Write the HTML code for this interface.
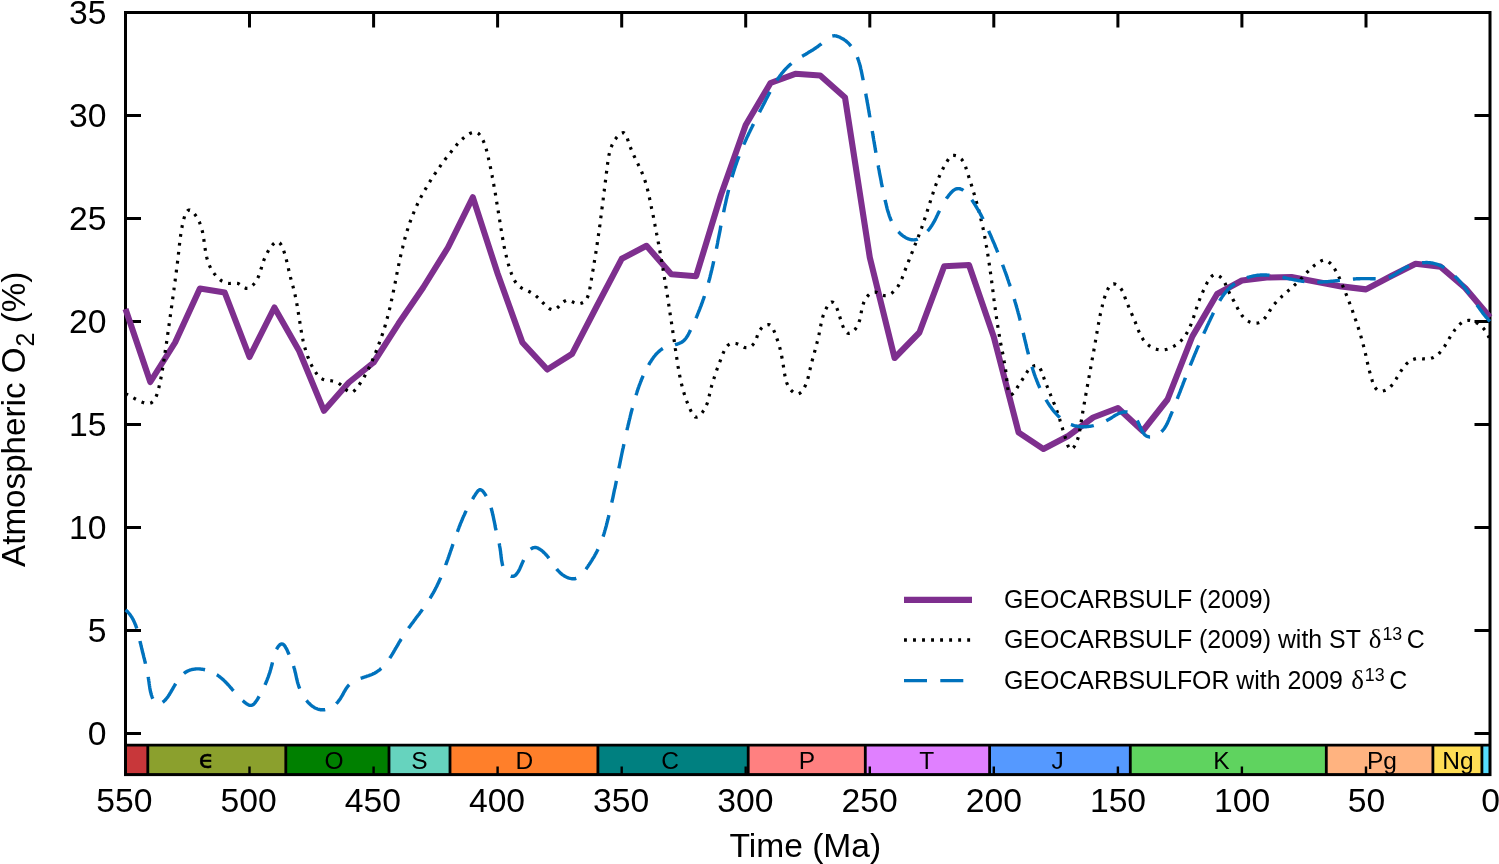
<!DOCTYPE html>
<html lang="en"><head><meta charset="utf-8"><title>Atmospheric O2 over Phanerozoic time</title>
<style>html,body{margin:0;padding:0;background:#fff}body{width:1499px;height:864px;overflow:hidden}svg{display:block}</style>
</head><body>
<svg width="1499" height="864" viewBox="0 0 1499 864" font-family="'Liberation Sans', Arial, Helvetica, sans-serif" fill="#000">
<rect x="0" y="0" width="1499" height="864" fill="#fff"/>
<path d="M1366.0,12.5 v15 M1366.0,774.6 v-9 M1241.9,12.5 v15 M1241.9,774.6 v-9 M1117.9,12.5 v15 M1117.9,774.6 v-9 M993.8,12.5 v15 M993.8,774.6 v-9 M869.8,12.5 v15 M869.8,774.6 v-9 M745.7,12.5 v15 M745.7,774.6 v-9 M621.7,12.5 v15 M621.7,774.6 v-9 M497.6,12.5 v15 M497.6,774.6 v-9 M373.6,12.5 v15 M373.6,774.6 v-9 M249.5,12.5 v15 M249.5,774.6 v-9 M125.5,733.6 h15.5 M1490.0,733.6 h-15.5 M125.5,630.6 h15.5 M1490.0,630.6 h-15.5 M125.5,527.6 h15.5 M1490.0,527.6 h-15.5 M125.5,424.6 h15.5 M1490.0,424.6 h-15.5 M125.5,321.6 h15.5 M1490.0,321.6 h-15.5 M125.5,218.6 h15.5 M1490.0,218.6 h-15.5 M125.5,115.6 h15.5 M1490.0,115.6 h-15.5" stroke="#000" stroke-width="3" fill="none"/>
<rect x="125.5" y="745.1" width="22.3" height="29.5" fill="#C8373A"/>
<rect x="147.8" y="745.1" width="137.9" height="29.5" fill="#8BA02D"/>
<rect x="285.8" y="745.1" width="103.2" height="29.5" fill="#008000"/>
<rect x="389.0" y="745.1" width="61.0" height="29.5" fill="#66D3BE"/>
<rect x="450.0" y="745.1" width="147.9" height="29.5" fill="#FF7F2A"/>
<rect x="597.9" y="745.1" width="150.3" height="29.5" fill="#008080"/>
<rect x="748.2" y="745.1" width="117.1" height="29.5" fill="#FF8080"/>
<rect x="865.3" y="745.1" width="124.3" height="29.5" fill="#E080FF"/>
<rect x="989.6" y="745.1" width="140.7" height="29.5" fill="#5599FF"/>
<rect x="1130.3" y="745.1" width="196.0" height="29.5" fill="#5FD35F"/>
<rect x="1326.3" y="745.1" width="106.6" height="29.5" fill="#FFB380"/>
<rect x="1432.9" y="745.1" width="49.0" height="29.5" fill="#FFDD55"/>
<rect x="1481.9" y="745.1" width="8.1" height="29.5" fill="#55DDFF"/>
<path d="M1366.0,774.6 v-8 M1241.9,774.6 v-8 M1117.9,774.6 v-8 M993.8,774.6 v-8 M869.8,774.6 v-8 M745.7,774.6 v-8 M621.7,774.6 v-8 M497.6,774.6 v-8 M373.6,774.6 v-8 M249.5,774.6 v-8" stroke="#000" stroke-width="2.4" fill="none"/>
<path d="M147.8,745.1 V774.6 M285.8,745.1 V774.6 M389.0,745.1 V774.6 M450.0,745.1 V774.6 M597.9,745.1 V774.6 M748.2,745.1 V774.6 M865.3,745.1 V774.6 M989.6,745.1 V774.6 M1130.3,745.1 V774.6 M1326.3,745.1 V774.6 M1432.9,745.1 V774.6 M1481.9,745.1 V774.6 M125.5,745.1 H1490.0" stroke="#000" stroke-width="2.8" fill="none"/>
<g font-size="24.5" text-anchor="middle">
<text x="206.5" y="768.2" font-family="'DejaVu Sans', 'Liberation Sans', sans-serif" font-size="25.5" stroke="#000" stroke-width="0.5">ϵ</text>
<text x="334.0" y="769.3">O</text>
<text x="419.5" y="769.3">S</text>
<text x="524.3" y="769.3">D</text>
<text x="670.0" y="769.3">C</text>
<text x="807.0" y="769.3">P</text>
<text x="926.7" y="769.3">T</text>
<text x="1057.5" y="769.3">J</text>
<text x="1221.5" y="769.3">K</text>
<text x="1382.0" y="769.3">Pg</text>
<text x="1458.0" y="769.3">Ng</text>
</g>
<rect x="125.5" y="12.5" width="1364.5" height="762.1" fill="none" stroke="#000" stroke-width="3.0"/>
<path d="M125.5,309.0 L150.3,382.0 L175.1,342.5 L199.9,288.5 L224.7,292.5 L249.5,357.0 L274.4,307.5 L299.2,351.0 L324.0,410.8 L348.8,382.5 L373.6,362.5 L398.4,323.8 L423.2,287.5 L448.0,247.5 L472.8,197.3 L497.6,273.5 L522.4,342.5 L547.3,369.5 L572.1,353.8 L596.9,306.0 L621.7,258.8 L646.5,245.8 L671.3,274.2 L696.1,276.2 L720.9,195.0 L745.7,125.0 L770.5,83.0 L795.3,73.8 L820.2,75.5 L845.0,97.5 L869.8,257.5 L894.6,358.0 L919.4,332.5 L944.2,266.2 L969.0,265.0 L993.8,337.0 L1018.6,432.5 L1043.4,449.0 L1068.2,436.0 L1093.1,417.5 L1117.9,408.0 L1142.7,431.0 L1167.5,399.5 L1192.3,336.5 L1217.1,294.0 L1241.9,280.5 L1266.7,277.5 L1291.5,277.0 L1316.3,281.7 L1341.1,286.4 L1366.0,289.4 L1390.8,276.3 L1415.6,263.8 L1440.4,266.6 L1465.2,288.0 L1490.0,317.3" stroke="#7E2F8E" stroke-width="6.1" fill="none" stroke-linejoin="round"/>
<path d="M125.5,393.7 L127.0,394.4 L128.6,395.2 L130.4,396.2 L132.3,397.3 L134.3,398.4 L136.3,399.5 L138.4,400.5 L140.5,401.5 L142.5,402.3 L144.5,403.0 L146.5,403.4 L148.3,403.5 L150.0,403.2 L151.5,402.7 L152.8,401.7 L154.0,400.4 L155.0,398.8 L156.0,396.9 L156.8,394.9 L157.5,392.8 L158.1,390.6 L158.7,388.4 L159.2,386.2 L159.7,384.0 L160.2,381.9 L160.6,379.9 L161.0,377.8 L161.4,375.8 L161.7,373.8 L162.1,371.9 L162.4,369.9 L162.7,368.0 L163.0,366.1 L163.3,364.2 L163.6,362.3 L163.9,360.3 L164.2,358.4 L164.5,356.5 L164.8,354.6 L165.1,352.6 L165.3,350.7 L165.6,348.7 L165.9,346.8 L166.2,344.9 L166.5,342.9 L166.8,340.9 L167.1,339.0 L167.3,337.0 L167.6,335.1 L167.9,333.1 L168.2,331.1 L168.5,329.2 L168.8,327.2 L169.0,325.2 L169.3,323.2 L169.6,321.2 L169.9,319.3 L170.1,317.3 L170.4,315.3 L170.7,313.3 L171.0,311.3 L171.2,309.3 L171.5,307.3 L171.8,305.3 L172.1,303.3 L172.3,301.3 L172.6,299.3 L172.9,297.3 L173.2,295.3 L173.4,293.2 L173.7,291.2 L174.0,289.2 L174.2,287.2 L174.5,285.2 L174.8,283.2 L175.1,281.2 L175.3,279.1 L175.6,277.1 L175.9,275.1 L176.1,273.1 L176.4,271.1 L176.6,269.1 L176.9,267.1 L177.2,265.1 L177.4,263.1 L177.6,261.2 L177.9,259.2 L178.1,257.3 L178.3,255.4 L178.5,253.5 L178.7,251.7 L178.9,249.8 L179.1,248.0 L179.3,246.2 L179.5,244.4 L179.7,242.6 L179.9,240.7 L180.1,238.8 L180.4,236.9 L180.7,234.9 L181.0,232.8 L181.3,230.6 L181.8,228.3 L182.2,226.0 L182.7,223.4 L183.3,220.9 L184.0,218.3 L184.7,215.9 L185.5,213.8 L186.5,212.1 L187.5,210.8 L188.6,210.1 L189.9,210.0 L191.3,210.7 L192.7,211.9 L194.1,213.4 L195.4,215.1 L196.6,216.8 L197.7,218.6 L198.6,220.5 L199.5,222.3 L200.2,224.2 L200.9,226.1 L201.5,228.0 L202.0,230.0 L202.5,231.9 L202.9,233.9 L203.2,235.8 L203.6,237.8 L203.9,239.8 L204.1,241.8 L204.4,243.8 L204.7,245.8 L205.0,247.8 L205.3,249.7 L205.6,251.7 L206.0,253.7 L206.4,255.6 L206.8,257.6 L207.3,259.5 L207.9,261.4 L208.6,263.3 L209.3,265.2 L210.2,267.1 L211.1,268.9 L212.1,270.6 L213.3,272.4 L214.5,274.0 L215.8,275.6 L217.2,277.2 L218.7,278.6 L220.3,279.9 L222.0,281.1 L223.8,282.0 L225.6,282.8 L227.5,283.3 L229.4,283.5 L231.4,283.4 L233.4,283.2 L235.4,283.1 L237.4,283.3 L239.2,284.0 L241.0,285.2 L242.7,286.5 L244.4,287.7 L246.1,288.4 L247.9,288.4 L249.6,287.7 L251.3,286.5 L252.8,285.2 L254.1,283.7 L255.3,282.2 L256.3,280.7 L257.2,279.1 L258.0,277.5 L258.8,275.8 L259.4,274.1 L260.0,272.3 L260.6,270.5 L261.2,268.6 L261.7,266.7 L262.3,264.7 L263.0,262.7 L263.7,260.6 L264.5,258.5 L265.4,256.4 L266.5,254.1 L267.7,251.9 L268.9,249.7 L270.3,247.6 L271.7,245.8 L273.1,244.2 L274.6,242.9 L276.0,242.1 L277.3,241.8 L278.6,242.1 L279.7,242.9 L280.8,244.2 L281.8,246.0 L282.7,248.0 L283.5,250.2 L284.3,252.5 L285.0,254.8 L285.6,257.0 L286.2,259.2 L286.7,261.2 L287.2,263.2 L287.6,265.2 L288.1,267.1 L288.5,268.9 L288.9,270.8 L289.4,272.6 L289.8,274.5 L290.3,276.3 L290.7,278.2 L291.2,280.0 L291.7,281.9 L292.2,283.8 L292.8,285.8 L293.3,287.7 L293.8,289.6 L294.3,291.6 L294.7,293.5 L295.2,295.5 L295.6,297.4 L296.0,299.4 L296.4,301.4 L296.8,303.4 L297.1,305.4 L297.5,307.4 L297.8,309.4 L298.1,311.3 L298.4,313.3 L298.7,315.3 L299.0,317.3 L299.4,319.3 L299.7,321.3 L300.0,323.3 L300.3,325.3 L300.6,327.3 L300.9,329.3 L301.3,331.3 L301.6,333.3 L302.0,335.2 L302.4,337.2 L302.8,339.2 L303.2,341.1 L303.7,343.0 L304.1,345.0 L304.6,346.9 L305.2,348.8 L305.7,350.7 L306.3,352.6 L307.0,354.5 L307.6,356.3 L308.4,358.2 L309.1,360.0 L309.9,361.8 L310.7,363.7 L311.6,365.4 L312.6,367.2 L313.6,369.0 L314.6,370.7 L315.7,372.4 L316.9,374.1 L318.1,375.7 L319.5,377.1 L321.0,378.3 L322.6,379.2 L324.4,379.8 L326.4,380.2 L328.4,380.4 L330.4,380.7 L332.5,381.0 L334.6,381.4 L336.6,382.1 L338.6,383.1 L340.4,384.5 L342.2,386.0 L343.8,387.6 L345.5,389.2 L347.0,390.6 L348.5,391.6 L350.0,392.3 L351.5,392.4 L352.9,391.8 L354.3,390.8 L355.7,389.4 L357.1,387.7 L358.4,386.0 L359.6,384.2 L360.8,382.4 L362.0,380.6 L363.1,378.9 L364.1,377.1 L365.1,375.3 L366.1,373.5 L367.0,371.8 L368.0,370.0 L368.8,368.2 L369.7,366.4 L370.5,364.6 L371.3,362.8 L372.1,361.0 L372.9,359.2 L373.6,357.4 L374.4,355.6 L375.1,353.8 L375.9,351.9 L376.6,350.1 L377.3,348.3 L378.0,346.4 L378.7,344.5 L379.4,342.7 L380.1,340.8 L380.8,338.9 L381.5,337.0 L382.1,335.1 L382.8,333.2 L383.4,331.3 L384.0,329.4 L384.6,327.5 L385.2,325.6 L385.7,323.7 L386.3,321.7 L386.8,319.8 L387.3,317.9 L387.8,315.9 L388.3,314.0 L388.8,312.0 L389.3,310.1 L389.8,308.1 L390.2,306.2 L390.7,304.2 L391.1,302.3 L391.5,300.3 L392.0,298.3 L392.4,296.4 L392.8,294.4 L393.2,292.4 L393.6,290.5 L394.0,288.5 L394.4,286.5 L394.8,284.5 L395.2,282.6 L395.6,280.6 L396.0,278.6 L396.4,276.7 L396.7,274.7 L397.1,272.7 L397.5,270.7 L397.9,268.8 L398.3,266.8 L398.7,264.9 L399.1,262.9 L399.6,260.9 L400.0,259.0 L400.4,257.0 L400.8,255.1 L401.3,253.1 L401.7,251.2 L402.2,249.2 L402.7,247.3 L403.1,245.3 L403.6,243.4 L404.1,241.5 L404.6,239.5 L405.2,237.6 L405.7,235.7 L406.3,233.8 L406.8,231.9 L407.4,230.0 L408.0,228.1 L408.6,226.2 L409.3,224.3 L409.9,222.4 L410.6,220.6 L411.3,218.7 L412.0,216.8 L412.7,215.0 L413.5,213.1 L414.2,211.3 L415.0,209.5 L415.8,207.6 L416.7,205.8 L417.5,204.0 L418.4,202.2 L419.3,200.4 L420.2,198.6 L421.1,196.8 L422.1,195.1 L423.0,193.3 L424.0,191.5 L425.0,189.8 L426.0,188.1 L427.0,186.3 L428.0,184.6 L429.1,182.9 L430.1,181.2 L431.2,179.5 L432.3,177.8 L433.4,176.1 L434.5,174.4 L435.6,172.8 L436.7,171.1 L437.9,169.4 L439.0,167.8 L440.2,166.2 L441.4,164.5 L442.5,162.9 L443.7,161.3 L444.9,159.7 L446.1,158.1 L447.3,156.6 L448.6,155.0 L449.8,153.4 L451.0,151.9 L452.2,150.4 L453.5,148.8 L454.7,147.3 L456.0,145.8 L457.2,144.3 L458.5,142.8 L459.9,141.4 L461.3,140.0 L462.8,138.6 L464.4,137.3 L466.1,136.0 L467.9,134.8 L469.8,133.6 L471.8,132.8 L473.8,132.2 L475.7,132.2 L477.3,132.7 L478.8,133.7 L480.1,135.2 L481.3,136.9 L482.3,138.8 L483.2,140.7 L484.0,142.6 L484.8,144.5 L485.4,146.4 L486.0,148.3 L486.5,150.2 L487.0,152.2 L487.5,154.1 L488.0,156.0 L488.4,158.0 L488.8,159.9 L489.3,161.9 L489.7,163.8 L490.1,165.8 L490.5,167.7 L490.9,169.7 L491.3,171.6 L491.7,173.6 L492.1,175.5 L492.4,177.5 L492.8,179.5 L493.2,181.4 L493.5,183.4 L493.9,185.4 L494.2,187.4 L494.6,189.3 L494.9,191.3 L495.3,193.3 L495.6,195.3 L495.9,197.2 L496.3,199.2 L496.6,201.2 L496.9,203.2 L497.2,205.1 L497.6,207.1 L497.9,209.1 L498.2,211.1 L498.5,213.0 L498.8,215.0 L499.2,217.0 L499.5,219.0 L499.8,220.9 L500.1,222.9 L500.4,224.9 L500.7,226.9 L501.0,228.8 L501.4,230.8 L501.7,232.7 L502.0,234.7 L502.3,236.7 L502.7,238.6 L503.0,240.6 L503.4,242.5 L503.7,244.5 L504.1,246.5 L504.5,248.4 L504.9,250.4 L505.4,252.3 L505.8,254.3 L506.3,256.2 L506.7,258.2 L507.3,260.1 L507.8,262.1 L508.3,264.0 L508.9,266.0 L509.5,267.9 L510.2,269.9 L510.8,271.8 L511.5,273.8 L512.3,275.7 L513.1,277.6 L513.9,279.4 L514.9,281.2 L516.0,282.8 L517.1,284.3 L518.4,285.7 L519.8,286.8 L521.4,287.9 L523.1,288.8 L524.8,289.6 L526.6,290.4 L528.5,291.3 L530.4,292.2 L532.3,293.2 L534.1,294.4 L535.9,295.8 L537.7,297.4 L539.5,299.1 L541.2,300.8 L542.8,302.6 L544.4,304.3 L546.0,305.9 L547.6,307.3 L549.2,308.5 L550.7,309.3 L552.2,309.8 L553.7,309.8 L555.3,309.3 L556.8,308.3 L558.3,307.0 L559.8,305.4 L561.4,303.8 L563.0,302.3 L564.6,301.1 L566.3,300.3 L568.0,300.2 L569.8,300.6 L571.7,301.4 L573.6,302.4 L575.5,303.3 L577.5,303.8 L579.4,303.8 L581.3,303.3 L583.1,302.4 L584.7,301.2 L586.0,299.7 L587.0,298.1 L587.9,296.3 L588.6,294.4 L589.1,292.4 L589.6,290.4 L589.9,288.3 L590.3,286.2 L590.6,284.1 L590.9,282.1 L591.3,280.0 L591.6,278.0 L591.9,276.0 L592.3,274.0 L592.6,272.0 L593.0,270.0 L593.3,268.0 L593.6,266.1 L594.0,264.1 L594.3,262.1 L594.6,260.2 L594.9,258.2 L595.2,256.3 L595.6,254.3 L595.9,252.4 L596.2,250.4 L596.5,248.4 L596.8,246.5 L597.1,244.5 L597.4,242.6 L597.6,240.6 L597.9,238.6 L598.2,236.7 L598.5,234.7 L598.8,232.8 L599.0,230.8 L599.3,228.8 L599.6,226.9 L599.9,224.9 L600.1,222.9 L600.4,221.0 L600.6,219.0 L600.9,217.0 L601.2,215.1 L601.4,213.1 L601.7,211.1 L601.9,209.1 L602.2,207.1 L602.4,205.2 L602.7,203.2 L602.9,201.2 L603.2,199.2 L603.4,197.2 L603.7,195.2 L603.9,193.2 L604.2,191.2 L604.4,189.2 L604.7,187.2 L604.9,185.2 L605.2,183.2 L605.4,181.2 L605.7,179.2 L605.9,177.2 L606.2,175.1 L606.4,173.1 L606.7,171.1 L606.9,169.0 L607.2,167.0 L607.4,165.0 L607.7,162.9 L608.0,160.9 L608.3,158.9 L608.6,156.9 L609.0,154.9 L609.5,152.9 L610.0,151.0 L610.5,149.1 L611.2,147.2 L611.9,145.4 L612.7,143.6 L613.6,141.9 L614.6,140.2 L615.8,138.6 L617.0,137.1 L618.4,135.6 L619.9,134.2 L621.4,133.2 L622.9,132.7 L624.1,132.9 L625.2,133.9 L626.1,135.4 L627.0,137.4 L627.7,139.6 L628.5,141.9 L629.2,144.1 L630.0,146.3 L630.8,148.4 L631.6,150.4 L632.5,152.4 L633.3,154.3 L634.2,156.2 L635.1,158.0 L635.9,159.8 L636.8,161.6 L637.7,163.4 L638.5,165.1 L639.3,166.9 L640.2,168.6 L641.0,170.3 L641.7,172.0 L642.5,173.8 L643.2,175.6 L643.9,177.4 L644.5,179.2 L645.1,181.0 L645.7,182.9 L646.3,184.8 L646.8,186.7 L647.3,188.6 L647.8,190.6 L648.2,192.6 L648.7,194.5 L649.1,196.5 L649.6,198.5 L650.0,200.5 L650.4,202.4 L650.8,204.4 L651.2,206.4 L651.6,208.4 L652.1,210.3 L652.5,212.3 L652.9,214.3 L653.3,216.3 L653.7,218.3 L654.1,220.2 L654.4,222.2 L654.8,224.2 L655.2,226.2 L655.6,228.1 L656.0,230.1 L656.4,232.1 L656.7,234.1 L657.1,236.0 L657.5,238.0 L657.8,240.0 L658.2,242.0 L658.6,243.9 L658.9,245.9 L659.3,247.9 L659.6,249.8 L660.0,251.8 L660.3,253.8 L660.7,255.8 L661.0,257.7 L661.4,259.7 L661.7,261.7 L662.1,263.6 L662.4,265.6 L662.7,267.6 L663.1,269.6 L663.4,271.5 L663.7,273.5 L664.1,275.5 L664.4,277.4 L664.7,279.4 L665.0,281.4 L665.4,283.4 L665.7,285.3 L666.0,287.3 L666.3,289.3 L666.6,291.2 L667.0,293.2 L667.3,295.2 L667.6,297.1 L667.9,299.1 L668.2,301.1 L668.5,303.1 L668.8,305.0 L669.1,307.0 L669.4,309.0 L669.7,310.9 L670.0,312.9 L670.3,314.9 L670.6,316.9 L670.9,318.8 L671.2,320.8 L671.5,322.8 L671.8,324.8 L672.1,326.7 L672.4,328.7 L672.7,330.7 L673.0,332.7 L673.3,334.6 L673.6,336.6 L673.9,338.6 L674.2,340.6 L674.5,342.5 L674.8,344.5 L675.1,346.5 L675.3,348.5 L675.6,350.4 L675.9,352.4 L676.2,354.4 L676.5,356.4 L676.8,358.3 L677.1,360.3 L677.4,362.3 L677.7,364.3 L678.0,366.3 L678.4,368.2 L678.7,370.2 L679.1,372.2 L679.4,374.1 L679.8,376.1 L680.2,378.1 L680.6,380.0 L681.0,382.0 L681.5,384.0 L682.0,385.9 L682.5,387.9 L683.0,389.8 L683.6,391.7 L684.2,393.7 L684.8,395.6 L685.4,397.6 L686.1,399.5 L686.8,401.4 L687.6,403.3 L688.3,405.2 L689.2,407.1 L690.0,409.0 L690.9,410.9 L691.9,412.8 L692.9,414.5 L694.0,415.9 L695.2,416.9 L696.5,417.2 L697.9,416.8 L699.5,415.7 L701.0,414.1 L702.5,412.2 L703.9,410.2 L705.1,408.2 L706.0,406.2 L706.9,404.2 L707.6,402.3 L708.2,400.3 L708.7,398.4 L709.1,396.5 L709.5,394.6 L710.0,392.7 L710.4,390.9 L710.8,389.0 L711.3,387.1 L711.8,385.3 L712.4,383.4 L712.9,381.6 L713.5,379.7 L714.1,377.9 L714.7,376.0 L715.3,374.1 L715.9,372.3 L716.6,370.4 L717.3,368.5 L718.0,366.6 L718.7,364.7 L719.4,362.7 L720.2,360.8 L721.0,358.8 L721.7,356.8 L722.5,354.8 L723.3,352.8 L724.2,350.8 L725.1,349.0 L726.2,347.2 L727.4,345.8 L728.8,344.6 L730.4,343.7 L732.2,343.3 L734.2,343.2 L736.2,343.5 L738.2,344.2 L740.1,345.2 L742.0,346.2 L743.8,347.2 L745.6,347.7 L747.5,347.7 L749.3,347.2 L751.1,346.3 L752.6,345.0 L754.0,343.5 L755.0,341.8 L755.9,339.9 L756.6,338.1 L757.2,336.1 L757.9,334.2 L758.7,332.3 L759.7,330.4 L761.0,328.7 L762.6,327.1 L764.4,325.8 L766.3,324.9 L768.1,324.6 L769.7,324.9 L771.1,325.9 L772.3,327.4 L773.3,329.3 L774.2,331.3 L775.0,333.4 L775.8,335.4 L776.5,337.4 L777.2,339.4 L777.9,341.3 L778.5,343.2 L779.0,345.1 L779.6,347.0 L780.1,348.9 L780.5,350.7 L780.9,352.6 L781.4,354.5 L781.7,356.4 L782.1,358.3 L782.5,360.2 L782.8,362.1 L783.1,364.1 L783.4,366.1 L783.7,368.1 L784.0,370.2 L784.3,372.3 L784.7,374.4 L785.1,376.5 L785.5,378.6 L786.0,380.6 L786.6,382.5 L787.4,384.4 L788.2,386.2 L789.2,387.9 L790.3,389.4 L791.6,390.8 L793.1,392.1 L794.7,393.1 L796.4,393.8 L798.2,393.9 L799.8,393.3 L801.3,392.1 L802.7,390.4 L803.9,388.4 L805.0,386.3 L805.9,384.3 L806.7,382.3 L807.4,380.3 L807.9,378.4 L808.4,376.5 L808.9,374.6 L809.3,372.8 L809.7,370.9 L810.1,369.0 L810.6,367.1 L811.0,365.2 L811.5,363.3 L812.0,361.4 L812.5,359.4 L813.1,357.5 L813.6,355.5 L814.1,353.5 L814.7,351.6 L815.2,349.6 L815.7,347.6 L816.3,345.6 L816.8,343.7 L817.3,341.7 L817.8,339.8 L818.2,337.8 L818.7,335.9 L819.1,334.0 L819.5,332.1 L819.9,330.2 L820.2,328.4 L820.6,326.5 L820.9,324.7 L821.3,322.8 L821.7,320.9 L822.2,319.0 L822.7,317.1 L823.4,315.0 L824.2,312.9 L825.1,310.7 L826.2,308.5 L827.4,306.3 L828.7,304.4 L830.0,302.9 L831.3,302.1 L832.6,302.0 L833.8,302.8 L835.0,304.2 L836.0,306.1 L836.9,308.3 L837.7,310.4 L838.4,312.5 L839.1,314.5 L839.6,316.3 L840.2,318.2 L840.7,320.1 L841.3,322.0 L842.0,324.0 L842.8,326.0 L843.7,328.2 L844.8,330.1 L846.0,331.8 L847.4,333.0 L848.8,333.5 L850.5,333.2 L852.1,332.3 L853.7,330.9 L855.2,329.2 L856.5,327.4 L857.5,325.6 L858.4,323.8 L859.1,321.9 L859.7,320.0 L860.2,318.1 L860.6,316.1 L861.0,314.1 L861.3,312.1 L861.7,310.0 L862.2,307.9 L862.7,305.9 L863.3,303.9 L864.0,301.9 L864.8,300.1 L865.8,298.3 L867.0,296.7 L868.4,295.2 L869.9,293.9 L871.7,292.9 L873.5,292.2 L875.4,292.1 L877.2,292.5 L879.1,293.4 L880.9,294.4 L882.7,295.3 L884.6,295.7 L886.5,295.6 L888.4,295.0 L890.2,294.1 L891.9,293.0 L893.4,291.8 L894.8,290.5 L896.1,289.0 L897.2,287.5 L898.3,285.9 L899.3,284.1 L900.2,282.4 L901.1,280.5 L901.9,278.7 L902.6,276.8 L903.4,274.8 L904.1,272.9 L904.8,271.0 L905.5,269.1 L906.3,267.1 L907.0,265.2 L907.7,263.3 L908.5,261.5 L909.2,259.6 L909.9,257.7 L910.7,255.8 L911.4,254.0 L912.2,252.1 L912.9,250.2 L913.7,248.4 L914.4,246.5 L915.1,244.7 L915.9,242.8 L916.6,241.0 L917.3,239.2 L918.1,237.3 L918.8,235.5 L919.5,233.6 L920.2,231.8 L920.9,229.9 L921.6,228.0 L922.2,226.2 L922.9,224.3 L923.6,222.4 L924.2,220.5 L924.8,218.6 L925.5,216.8 L926.1,214.9 L926.7,212.9 L927.3,211.0 L927.9,209.1 L928.5,207.2 L929.1,205.3 L929.7,203.4 L930.3,201.5 L930.9,199.5 L931.5,197.6 L932.1,195.7 L932.8,193.8 L933.4,191.9 L934.1,190.0 L934.7,188.1 L935.4,186.2 L936.1,184.3 L936.8,182.5 L937.6,180.6 L938.3,178.7 L939.1,176.9 L939.9,175.1 L940.7,173.2 L941.6,171.4 L942.5,169.6 L943.4,167.8 L944.4,166.0 L945.4,164.3 L946.4,162.5 L947.4,160.8 L948.5,159.1 L949.7,157.5 L951.1,156.3 L952.6,155.5 L954.4,155.4 L956.5,155.9 L958.5,156.9 L960.3,158.2 L961.9,159.7 L963.1,161.4 L964.1,163.1 L964.9,164.9 L965.6,166.8 L966.2,168.7 L966.8,170.6 L967.4,172.5 L968.0,174.4 L968.6,176.3 L969.2,178.2 L969.9,180.1 L970.5,182.0 L971.1,183.9 L971.7,185.8 L972.2,187.8 L972.8,189.7 L973.4,191.6 L974.0,193.5 L974.6,195.5 L975.1,197.4 L975.7,199.3 L976.2,201.3 L976.8,203.2 L977.3,205.2 L977.8,207.1 L978.4,209.0 L978.9,211.0 L979.4,212.9 L979.9,214.9 L980.4,216.8 L980.8,218.8 L981.3,220.7 L981.8,222.6 L982.2,224.6 L982.6,226.5 L983.1,228.5 L983.5,230.4 L983.9,232.4 L984.3,234.3 L984.7,236.3 L985.0,238.2 L985.4,240.2 L985.7,242.1 L986.1,244.1 L986.4,246.0 L986.8,248.0 L987.1,249.9 L987.4,251.9 L987.7,253.8 L988.0,255.8 L988.3,257.8 L988.6,259.7 L988.9,261.7 L989.2,263.7 L989.5,265.6 L989.8,267.6 L990.1,269.6 L990.3,271.6 L990.6,273.5 L990.9,275.5 L991.1,277.5 L991.4,279.5 L991.7,281.5 L991.9,283.5 L992.2,285.5 L992.5,287.6 L992.7,289.6 L993.0,291.6 L993.2,293.6 L993.5,295.6 L993.8,297.7 L994.0,299.7 L994.3,301.7 L994.6,303.7 L994.8,305.7 L995.1,307.8 L995.4,309.8 L995.7,311.8 L996.0,313.8 L996.2,315.8 L996.5,317.8 L996.8,319.8 L997.1,321.7 L997.4,323.7 L997.7,325.7 L998.0,327.6 L998.3,329.6 L998.6,331.5 L998.9,333.4 L999.3,335.3 L999.6,337.2 L999.9,339.1 L1000.3,341.0 L1000.6,342.8 L1000.9,344.7 L1001.3,346.5 L1001.7,348.3 L1002.0,350.1 L1002.4,351.9 L1002.8,353.7 L1003.1,355.5 L1003.5,357.4 L1003.9,359.3 L1004.2,361.2 L1004.6,363.3 L1004.9,365.4 L1005.3,367.5 L1005.6,369.8 L1005.9,372.2 L1006.2,374.8 L1006.5,377.4 L1006.8,380.2 L1007.1,382.9 L1007.4,385.5 L1007.7,388.0 L1008.1,390.2 L1008.6,392.0 L1009.2,393.5 L1009.9,394.5 L1010.8,394.9 L1011.7,394.6 L1012.8,393.7 L1014.0,392.4 L1015.3,390.6 L1016.6,388.7 L1017.8,386.6 L1019.1,384.7 L1020.2,382.8 L1021.3,381.1 L1022.4,379.5 L1023.5,377.9 L1024.5,376.2 L1025.5,374.6 L1026.6,372.8 L1027.7,371.0 L1029.0,369.3 L1030.4,367.8 L1032.0,366.6 L1033.9,365.9 L1035.8,365.6 L1037.6,365.9 L1039.0,366.8 L1040.0,368.2 L1040.9,369.9 L1041.7,371.8 L1042.4,373.8 L1043.1,375.8 L1043.8,377.8 L1044.5,379.8 L1045.3,381.7 L1046.0,383.7 L1046.8,385.6 L1047.6,387.5 L1048.3,389.4 L1049.1,391.3 L1049.9,393.1 L1050.6,395.0 L1051.4,396.9 L1052.1,398.7 L1052.9,400.5 L1053.6,402.4 L1054.4,404.2 L1055.1,406.0 L1055.8,407.9 L1056.4,409.7 L1057.1,411.5 L1057.7,413.3 L1058.4,415.2 L1059.0,417.0 L1059.6,418.8 L1060.1,420.7 L1060.7,422.6 L1061.3,424.4 L1061.9,426.4 L1062.4,428.3 L1063.0,430.2 L1063.6,432.2 L1064.2,434.2 L1064.9,436.3 L1065.5,438.4 L1066.2,440.5 L1066.9,442.6 L1067.6,444.8 L1068.4,446.7 L1069.3,448.2 L1070.2,449.2 L1071.2,449.4 L1072.3,448.9 L1073.5,447.7 L1074.6,446.0 L1075.7,444.0 L1076.7,442.0 L1077.4,439.9 L1078.1,437.9 L1078.7,435.9 L1079.1,433.9 L1079.5,432.0 L1079.8,430.0 L1080.1,428.1 L1080.5,426.1 L1080.8,424.2 L1081.1,422.2 L1081.4,420.3 L1081.7,418.3 L1082.1,416.4 L1082.4,414.4 L1082.7,412.4 L1083.0,410.5 L1083.4,408.5 L1083.7,406.6 L1084.1,404.6 L1084.4,402.6 L1084.8,400.7 L1085.1,398.7 L1085.5,396.7 L1085.8,394.8 L1086.2,392.8 L1086.5,390.8 L1086.9,388.9 L1087.2,386.9 L1087.6,384.9 L1087.9,383.0 L1088.3,381.0 L1088.7,379.0 L1089.0,377.0 L1089.4,375.1 L1089.7,373.1 L1090.1,371.1 L1090.5,369.2 L1090.8,367.2 L1091.2,365.2 L1091.5,363.2 L1091.9,361.3 L1092.2,359.3 L1092.6,357.3 L1093.0,355.3 L1093.3,353.4 L1093.7,351.4 L1094.0,349.4 L1094.4,347.4 L1094.7,345.5 L1095.0,343.5 L1095.4,341.5 L1095.7,339.5 L1096.1,337.5 L1096.4,335.6 L1096.8,333.6 L1097.1,331.6 L1097.4,329.7 L1097.8,327.7 L1098.2,325.7 L1098.5,323.8 L1098.9,321.8 L1099.3,319.9 L1099.6,317.9 L1100.0,316.0 L1100.4,314.0 L1100.9,312.1 L1101.3,310.2 L1101.7,308.2 L1102.2,306.3 L1102.6,304.4 L1103.1,302.5 L1103.6,300.6 L1104.2,298.6 L1104.8,296.7 L1105.5,294.7 L1106.3,292.8 L1107.1,290.7 L1108.1,288.7 L1109.2,286.9 L1110.4,285.3 L1111.8,284.3 L1113.5,283.9 L1115.3,284.2 L1117.1,285.1 L1118.8,286.3 L1120.3,287.8 L1121.5,289.5 L1122.5,291.2 L1123.4,293.1 L1124.1,295.0 L1124.8,297.0 L1125.5,298.9 L1126.2,300.8 L1127.0,302.7 L1127.7,304.5 L1128.5,306.4 L1129.2,308.2 L1130.0,310.0 L1130.8,311.8 L1131.6,313.6 L1132.4,315.4 L1133.2,317.2 L1134.0,319.1 L1134.7,320.9 L1135.5,322.7 L1136.2,324.6 L1137.0,326.5 L1137.7,328.4 L1138.4,330.3 L1139.2,332.2 L1140.1,334.1 L1141.0,335.9 L1142.0,337.7 L1143.1,339.4 L1144.4,341.0 L1145.7,342.5 L1147.1,343.9 L1148.6,345.2 L1150.2,346.4 L1151.9,347.4 L1153.6,348.3 L1155.4,349.0 L1157.3,349.5 L1159.2,349.8 L1161.1,349.9 L1163.0,349.9 L1165.0,349.6 L1167.0,349.2 L1168.9,348.6 L1170.8,347.8 L1172.7,346.9 L1174.5,345.9 L1176.3,344.7 L1177.9,343.5 L1179.5,342.2 L1181.0,340.8 L1182.3,339.3 L1183.6,337.8 L1184.8,336.2 L1185.9,334.6 L1186.9,332.9 L1187.9,331.1 L1188.8,329.3 L1189.7,327.5 L1190.5,325.7 L1191.2,323.8 L1191.9,321.9 L1192.6,320.0 L1193.3,318.1 L1193.9,316.2 L1194.5,314.3 L1195.2,312.4 L1195.8,310.5 L1196.4,308.6 L1197.0,306.8 L1197.6,304.9 L1198.3,303.1 L1198.9,301.3 L1199.6,299.5 L1200.3,297.7 L1201.1,295.9 L1201.9,294.0 L1202.7,292.2 L1203.5,290.3 L1204.4,288.4 L1205.3,286.4 L1206.3,284.4 L1207.3,282.4 L1208.4,280.5 L1209.6,278.7 L1210.8,277.2 L1212.1,275.9 L1213.5,275.1 L1215.0,274.7 L1216.6,274.8 L1218.3,275.6 L1220.0,276.7 L1221.5,278.2 L1222.9,279.8 L1224.1,281.6 L1225.1,283.4 L1226.0,285.3 L1226.8,287.2 L1227.6,289.1 L1228.4,290.9 L1229.2,292.6 L1230.1,294.3 L1231.0,296.0 L1232.0,297.7 L1232.9,299.4 L1233.9,301.1 L1234.8,302.8 L1235.8,304.6 L1236.7,306.5 L1237.7,308.4 L1238.7,310.3 L1239.7,312.1 L1240.9,313.9 L1242.0,315.6 L1243.3,317.2 L1244.7,318.6 L1246.2,319.9 L1247.8,321.0 L1249.5,321.9 L1251.3,322.6 L1253.2,323.0 L1255.1,323.2 L1256.9,323.1 L1258.7,322.7 L1260.4,322.0 L1262.0,321.0 L1263.4,319.7 L1264.8,318.2 L1266.1,316.5 L1267.3,314.8 L1268.5,312.9 L1269.6,311.0 L1270.8,309.2 L1271.9,307.4 L1273.1,305.7 L1274.3,304.2 L1275.6,302.7 L1276.8,301.3 L1278.2,299.9 L1279.5,298.6 L1281.0,297.3 L1282.4,295.9 L1283.9,294.6 L1285.4,293.3 L1286.9,291.9 L1288.4,290.6 L1290.0,289.3 L1291.5,287.9 L1293.0,286.6 L1294.5,285.2 L1296.0,283.8 L1297.5,282.4 L1298.9,281.0 L1300.3,279.6 L1301.7,278.2 L1303.0,276.7 L1304.3,275.3 L1305.7,273.8 L1307.0,272.4 L1308.4,271.0 L1309.8,269.6 L1311.3,268.2 L1312.8,266.8 L1314.3,265.5 L1316.0,264.2 L1317.7,263.0 L1319.5,261.8 L1321.3,260.8 L1323.2,260.2 L1325.0,260.1 L1326.7,260.6 L1328.3,261.6 L1329.9,262.9 L1331.3,264.4 L1332.6,266.0 L1333.8,267.6 L1334.9,269.3 L1336.0,271.1 L1336.9,272.8 L1337.9,274.6 L1338.7,276.5 L1339.5,278.3 L1340.3,280.1 L1341.1,282.0 L1341.9,283.9 L1342.7,285.7 L1343.4,287.6 L1344.2,289.4 L1344.9,291.2 L1345.7,293.1 L1346.4,294.9 L1347.1,296.8 L1347.8,298.6 L1348.6,300.5 L1349.3,302.3 L1350.0,304.2 L1350.7,306.1 L1351.4,307.9 L1352.1,309.8 L1352.8,311.7 L1353.4,313.6 L1354.1,315.4 L1354.8,317.3 L1355.4,319.2 L1356.1,321.2 L1356.7,323.1 L1357.4,325.0 L1358.0,326.9 L1358.6,328.8 L1359.2,330.8 L1359.8,332.7 L1360.4,334.6 L1361.0,336.6 L1361.5,338.5 L1362.1,340.4 L1362.6,342.3 L1363.1,344.3 L1363.6,346.2 L1364.1,348.1 L1364.6,350.0 L1365.0,351.9 L1365.5,353.8 L1365.9,355.7 L1366.3,357.6 L1366.7,359.6 L1367.2,361.5 L1367.6,363.4 L1368.0,365.3 L1368.5,367.3 L1369.0,369.2 L1369.5,371.2 L1370.0,373.2 L1370.5,375.2 L1371.1,377.2 L1371.8,379.2 L1372.4,381.3 L1373.1,383.3 L1373.9,385.3 L1374.9,387.2 L1376.0,388.7 L1377.3,389.9 L1379.0,390.7 L1380.8,391.1 L1382.8,391.0 L1384.8,390.5 L1386.7,389.7 L1388.4,388.6 L1389.9,387.4 L1391.3,385.9 L1392.6,384.3 L1393.8,382.7 L1394.9,380.9 L1396.0,379.2 L1397.1,377.4 L1398.2,375.7 L1399.3,373.9 L1400.3,372.1 L1401.4,370.4 L1402.5,368.8 L1403.7,367.2 L1404.9,365.7 L1406.2,364.2 L1407.6,362.9 L1409.1,361.7 L1410.7,360.6 L1412.3,359.7 L1414.2,359.1 L1416.1,358.6 L1418.3,358.5 L1420.5,358.6 L1422.7,358.8 L1425.0,358.9 L1427.1,358.9 L1429.1,358.8 L1430.9,358.4 L1432.7,357.8 L1434.3,357.0 L1435.8,356.1 L1437.3,355.1 L1438.7,353.9 L1439.9,352.5 L1441.2,351.1 L1442.4,349.6 L1443.5,347.9 L1444.7,346.2 L1445.8,344.4 L1446.9,342.6 L1448.0,340.7 L1449.1,338.8 L1450.2,336.9 L1451.4,335.0 L1452.6,333.1 L1453.8,331.3 L1455.0,329.6 L1456.3,327.9 L1457.6,326.4 L1459.0,325.0 L1460.4,323.7 L1461.8,322.6 L1463.3,321.7 L1464.9,321.0 L1466.5,320.6 L1468.2,320.4 L1469.9,320.4 L1471.7,320.8 L1473.5,321.4 L1475.4,322.2 L1477.2,323.2 L1479.0,324.5 L1480.8,325.8 L1482.4,327.3 L1483.9,328.9 L1485.3,330.6 L1486.5,332.4 L1487.6,334.2 L1488.4,336.0 L1489.0,337.8 L1489.3,339.5" stroke="#000" stroke-width="3.2" stroke-dasharray="2.8 6.2" fill="none" stroke-linejoin="round"/>
<path d="M125.6,609.9 L126.4,610.6 L127.1,611.3 L127.8,612.0 L128.5,612.8 L129.1,613.5 L129.7,614.3 L130.3,615.1 L130.9,615.9 L131.4,616.7 L132.0,617.5 L132.4,618.4 L132.9,619.2 L133.4,620.1 L133.8,621.0 L134.2,621.9 L134.6,622.8 L135.0,623.7 L135.4,624.6 L135.7,625.5 L136.1,626.5 L136.4,627.4 L136.7,628.3 L137.0,629.3 L137.3,630.3 L137.6,631.2 L137.9,632.2 L138.1,633.2 L138.4,634.2 L138.6,635.1 L138.9,636.1 L139.1,637.1 L139.3,638.1 L139.5,639.1 L139.8,640.1 L140.0,641.1 L140.2,642.1 L140.4,643.1 L140.7,644.1 L140.9,645.0 L141.1,646.0 L141.4,647.0 L141.6,648.0 L141.8,649.0 L142.1,649.9 L142.3,650.9 L142.5,651.9 L142.8,652.8 L143.0,653.8 L143.3,654.8 L143.5,655.7 L143.7,656.7 L144.0,657.7 L144.2,658.6 L144.5,659.6 L144.7,660.6 L144.9,661.5 L145.2,662.5 L145.4,663.4 L145.6,664.4 L145.9,665.4 L146.1,666.3 L146.3,667.3 L146.5,668.3 L146.7,669.2 L146.9,670.2 L147.1,671.2 L147.3,672.1 L147.5,673.1 L147.7,674.1 L147.9,675.1 L148.1,676.1 L148.2,677.0 L148.4,678.0 L148.5,679.0 L148.7,680.0 L148.8,681.0 L149.0,682.0 L149.1,683.0 L149.2,684.0 L149.4,685.0 L149.5,686.0 L149.7,687.0 L149.8,688.0 L150.0,689.1 L150.2,690.1 L150.4,691.1 L150.6,692.1 L150.9,693.1 L151.1,694.1 L151.4,695.1 L151.8,696.1 L152.1,697.1 L152.5,698.1 L153.0,699.1 L153.4,700.1 L153.9,701.0 L154.5,701.8 L155.1,702.6 L155.7,703.2 L156.4,703.7 L157.1,704.1 L157.8,704.2 L158.6,704.2 L159.4,704.1 L160.3,703.8 L161.1,703.3 L162.0,702.8 L162.8,702.2 L163.6,701.6 L164.3,700.9 L165.0,700.2 L165.7,699.5 L166.3,698.7 L166.9,698.0 L167.5,697.2 L168.1,696.4 L168.6,695.6 L169.2,694.8 L169.7,693.9 L170.2,693.0 L170.8,692.1 L171.3,691.2 L171.8,690.3 L172.4,689.4 L172.9,688.4 L173.4,687.5 L174.0,686.6 L174.5,685.6 L175.1,684.7 L175.6,683.7 L176.2,682.8 L176.8,681.9 L177.4,681.0 L178.0,680.1 L178.6,679.3 L179.2,678.4 L179.8,677.6 L180.5,676.8 L181.2,676.1 L181.9,675.3 L182.6,674.6 L183.3,674.0 L184.0,673.4 L184.8,672.8 L185.6,672.3 L186.4,671.8 L187.2,671.3 L188.1,670.9 L188.9,670.5 L189.8,670.2 L190.7,669.9 L191.6,669.7 L192.5,669.4 L193.5,669.3 L194.4,669.1 L195.3,669.0 L196.3,668.9 L197.2,668.9 L198.2,668.9 L199.2,668.9 L200.2,669.0 L201.1,669.1 L202.1,669.2 L203.1,669.4 L204.0,669.5 L205.0,669.8 L206.0,670.0 L207.0,670.3 L207.9,670.6 L208.9,670.9 L209.8,671.2 L210.7,671.6 L211.7,672.0 L212.6,672.4 L213.5,672.9 L214.4,673.3 L215.3,673.8 L216.1,674.3 L217.0,674.8 L217.8,675.4 L218.6,676.0 L219.4,676.6 L220.2,677.2 L220.9,677.8 L221.7,678.4 L222.4,679.1 L223.2,679.7 L223.9,680.4 L224.6,681.1 L225.3,681.8 L226.0,682.5 L226.7,683.2 L227.4,684.0 L228.1,684.7 L228.8,685.5 L229.4,686.2 L230.1,687.0 L230.8,687.8 L231.5,688.5 L232.1,689.3 L232.8,690.1 L233.5,690.9 L234.2,691.6 L234.9,692.4 L235.5,693.2 L236.2,694.0 L236.9,694.8 L237.7,695.5 L238.4,696.3 L239.1,697.1 L239.8,697.8 L240.6,698.6 L241.4,699.3 L242.1,700.1 L242.9,700.8 L243.7,701.5 L244.5,702.2 L245.4,702.9 L246.2,703.5 L247.0,704.1 L247.9,704.6 L248.7,705.0 L249.5,705.3 L250.3,705.4 L251.1,705.4 L251.8,705.3 L252.5,705.0 L253.2,704.6 L253.9,704.0 L254.5,703.4 L255.1,702.7 L255.7,701.8 L256.3,701.0 L256.9,700.1 L257.5,699.2 L258.0,698.3 L258.5,697.4 L259.1,696.5 L259.6,695.6 L260.1,694.6 L260.6,693.7 L261.1,692.8 L261.6,691.9 L262.1,691.0 L262.5,690.1 L263.0,689.2 L263.4,688.3 L263.9,687.4 L264.3,686.5 L264.7,685.6 L265.1,684.7 L265.5,683.8 L265.9,682.9 L266.3,682.0 L266.6,681.1 L267.0,680.2 L267.4,679.2 L267.7,678.3 L268.1,677.4 L268.4,676.5 L268.7,675.6 L269.0,674.7 L269.4,673.7 L269.7,672.8 L270.0,671.9 L270.2,670.9 L270.5,670.0 L270.8,669.0 L271.1,668.0 L271.3,667.1 L271.6,666.1 L271.9,665.1 L272.1,664.1 L272.3,663.1 L272.6,662.1 L272.8,661.1 L273.0,660.1 L273.3,659.0 L273.5,658.0 L273.8,657.0 L274.0,656.0 L274.3,654.9 L274.6,653.9 L275.0,652.9 L275.3,651.9 L275.7,651.0 L276.2,650.0 L276.7,649.1 L277.2,648.2 L277.7,647.3 L278.4,646.4 L279.0,645.7 L279.6,645.0 L280.3,644.5 L281.0,644.1 L281.6,644.0 L282.3,644.0 L282.9,644.2 L283.5,644.6 L284.1,645.1 L284.7,645.8 L285.2,646.7 L285.7,647.6 L286.3,648.5 L286.8,649.6 L287.3,650.6 L287.8,651.7 L288.2,652.8 L288.7,653.8 L289.2,654.9 L289.6,655.9 L290.0,656.9 L290.4,657.9 L290.9,658.8 L291.2,659.8 L291.6,660.7 L292.0,661.7 L292.4,662.6 L292.7,663.5 L293.0,664.5 L293.3,665.4 L293.6,666.3 L293.9,667.2 L294.2,668.2 L294.5,669.1 L294.7,670.0 L294.9,670.9 L295.1,671.9 L295.4,672.8 L295.6,673.7 L295.8,674.6 L296.0,675.6 L296.2,676.5 L296.4,677.5 L296.6,678.4 L296.8,679.3 L297.1,680.3 L297.3,681.2 L297.5,682.2 L297.8,683.1 L298.1,684.1 L298.4,685.0 L298.7,686.0 L299.0,687.0 L299.4,687.9 L299.8,688.9 L300.2,689.9 L300.6,690.8 L301.1,691.8 L301.6,692.7 L302.1,693.7 L302.6,694.6 L303.1,695.6 L303.7,696.5 L304.3,697.4 L304.9,698.3 L305.5,699.1 L306.1,700.0 L306.8,700.8 L307.4,701.6 L308.1,702.4 L308.8,703.1 L309.6,703.8 L310.3,704.5 L311.1,705.2 L311.8,705.8 L312.6,706.4 L313.4,706.9 L314.2,707.4 L315.1,707.9 L315.9,708.3 L316.8,708.7 L317.6,709.0 L318.5,709.3 L319.4,709.5 L320.3,709.7 L321.2,709.8 L322.1,709.8 L323.0,709.8 L324.0,709.8 L324.9,709.7 L325.9,709.5 L326.8,709.2 L327.8,708.9 L328.7,708.6 L329.7,708.2 L330.6,707.7 L331.5,707.2 L332.4,706.7 L333.3,706.1 L334.2,705.4 L335.0,704.8 L335.8,704.1 L336.6,703.3 L337.3,702.6 L338.0,701.8 L338.6,700.9 L339.3,700.1 L339.9,699.2 L340.5,698.4 L341.0,697.5 L341.5,696.6 L342.1,695.7 L342.6,694.8 L343.1,693.9 L343.6,692.9 L344.1,692.0 L344.6,691.2 L345.1,690.3 L345.6,689.4 L346.2,688.6 L346.7,687.8 L347.3,687.0 L347.9,686.2 L348.5,685.5 L349.2,684.8 L349.9,684.1 L350.6,683.5 L351.3,682.9 L352.1,682.4 L352.9,681.8 L353.7,681.3 L354.6,680.9 L355.5,680.4 L356.4,680.0 L357.3,679.6 L358.2,679.3 L359.2,678.9 L360.1,678.5 L361.1,678.2 L362.1,677.9 L363.1,677.5 L364.1,677.2 L365.0,676.9 L366.0,676.6 L367.0,676.2 L368.0,675.9 L368.9,675.6 L369.9,675.2 L370.8,674.9 L371.8,674.5 L372.7,674.1 L373.6,673.6 L374.5,673.2 L375.3,672.7 L376.1,672.2 L377.0,671.7 L377.7,671.2 L378.5,670.6 L379.3,670.1 L380.0,669.5 L380.7,668.8 L381.5,668.2 L382.1,667.6 L382.8,666.9 L383.5,666.2 L384.1,665.5 L384.8,664.8 L385.4,664.1 L386.0,663.3 L386.6,662.6 L387.2,661.8 L387.8,661.0 L388.4,660.2 L388.9,659.4 L389.5,658.6 L390.0,657.8 L390.6,656.9 L391.1,656.1 L391.6,655.3 L392.2,654.4 L392.7,653.5 L393.2,652.7 L393.7,651.8 L394.2,650.9 L394.7,650.1 L395.2,649.2 L395.7,648.3 L396.3,647.4 L396.8,646.5 L397.3,645.7 L397.8,644.8 L398.3,643.9 L398.8,643.0 L399.3,642.1 L399.9,641.3 L400.4,640.4 L400.9,639.5 L401.5,638.7 L402.0,637.8 L402.6,637.0 L403.1,636.1 L403.7,635.3 L404.2,634.4 L404.8,633.6 L405.4,632.8 L405.9,631.9 L406.5,631.1 L407.1,630.3 L407.7,629.5 L408.3,628.6 L408.8,627.8 L409.4,627.0 L410.0,626.2 L410.6,625.4 L411.2,624.6 L411.8,623.8 L412.4,623.0 L413.0,622.2 L413.6,621.4 L414.2,620.5 L414.8,619.7 L415.4,618.9 L416.0,618.1 L416.6,617.3 L417.2,616.5 L417.8,615.7 L418.4,615.0 L419.0,614.2 L419.6,613.4 L420.2,612.5 L420.8,611.7 L421.4,610.9 L422.0,610.1 L422.5,609.3 L423.1,608.5 L423.7,607.7 L424.3,606.9 L424.8,606.1 L425.4,605.3 L426.0,604.5 L426.5,603.7 L427.1,602.8 L427.6,602.0 L428.2,601.2 L428.7,600.4 L429.2,599.5 L429.8,598.7 L430.3,597.9 L430.8,597.0 L431.3,596.2 L431.8,595.3 L432.3,594.5 L432.8,593.6 L433.3,592.8 L433.8,591.9 L434.3,591.1 L434.7,590.2 L435.2,589.3 L435.6,588.4 L436.1,587.5 L436.5,586.7 L437.0,585.8 L437.4,584.9 L437.8,584.0 L438.3,583.1 L438.7,582.2 L439.1,581.3 L439.5,580.4 L439.9,579.5 L440.3,578.6 L440.7,577.7 L441.1,576.7 L441.5,575.8 L441.8,574.9 L442.2,574.0 L442.6,573.1 L443.0,572.1 L443.3,571.2 L443.7,570.3 L444.1,569.3 L444.4,568.4 L444.8,567.5 L445.1,566.5 L445.5,565.6 L445.8,564.6 L446.2,563.7 L446.5,562.7 L446.9,561.8 L447.2,560.9 L447.6,559.9 L447.9,559.0 L448.2,558.0 L448.6,557.1 L448.9,556.1 L449.2,555.2 L449.6,554.2 L449.9,553.2 L450.2,552.3 L450.5,551.3 L450.9,550.4 L451.2,549.4 L451.5,548.5 L451.9,547.5 L452.2,546.6 L452.5,545.6 L452.8,544.7 L453.2,543.7 L453.5,542.7 L453.8,541.8 L454.2,540.8 L454.5,539.9 L454.8,538.9 L455.2,538.0 L455.5,537.0 L455.8,536.1 L456.2,535.1 L456.5,534.2 L456.9,533.2 L457.2,532.3 L457.6,531.3 L457.9,530.4 L458.3,529.5 L458.6,528.5 L459.0,527.6 L459.3,526.6 L459.7,525.7 L460.1,524.8 L460.4,523.8 L460.8,522.9 L461.2,522.0 L461.6,521.0 L462.0,520.1 L462.4,519.2 L462.7,518.3 L463.1,517.4 L463.5,516.4 L464.0,515.5 L464.4,514.6 L464.8,513.7 L465.2,512.8 L465.6,511.9 L466.1,511.0 L466.5,510.1 L466.9,509.2 L467.4,508.3 L467.8,507.4 L468.3,506.6 L468.8,505.7 L469.2,504.8 L469.7,503.9 L470.2,503.1 L470.7,502.2 L471.2,501.3 L471.7,500.4 L472.2,499.6 L472.8,498.7 L473.3,497.8 L473.8,496.9 L474.4,496.0 L475.0,495.1 L475.6,494.1 L476.2,493.2 L476.8,492.4 L477.4,491.6 L478.0,490.9 L478.7,490.3 L479.3,489.9 L479.9,489.7 L480.6,489.7 L481.2,490.0 L481.9,490.4 L482.5,490.9 L483.2,491.6 L483.8,492.4 L484.4,493.2 L485.0,494.1 L485.5,495.0 L486.1,495.9 L486.6,496.8 L487.1,497.7 L487.5,498.7 L488.0,499.6 L488.4,500.6 L488.8,501.5 L489.2,502.5 L489.6,503.4 L489.9,504.4 L490.3,505.4 L490.6,506.4 L490.9,507.3 L491.2,508.3 L491.5,509.3 L491.7,510.3 L492.0,511.3 L492.2,512.3 L492.5,513.3 L492.7,514.3 L492.9,515.3 L493.2,516.3 L493.4,517.3 L493.6,518.3 L493.8,519.3 L494.0,520.3 L494.2,521.2 L494.4,522.2 L494.6,523.2 L494.8,524.2 L495.0,525.2 L495.1,526.1 L495.3,527.1 L495.5,528.1 L495.7,529.0 L496.0,530.0 L496.2,530.9 L496.4,531.9 L496.6,532.8 L496.8,533.7 L497.1,534.7 L497.3,535.6 L497.5,536.5 L497.7,537.4 L498.0,538.4 L498.2,539.3 L498.4,540.2 L498.6,541.2 L498.8,542.1 L499.1,543.1 L499.3,544.0 L499.5,545.0 L499.6,546.0 L499.8,547.0 L500.0,548.0 L500.2,549.0 L500.3,550.1 L500.5,551.1 L500.6,552.2 L500.7,553.2 L500.8,554.3 L501.0,555.4 L501.1,556.5 L501.2,557.6 L501.4,558.7 L501.5,559.8 L501.7,560.8 L501.9,561.9 L502.1,562.9 L502.3,564.0 L502.5,565.0 L502.8,566.0 L503.1,566.9 L503.4,567.9 L503.8,568.8 L504.2,569.7 L504.6,570.5 L505.1,571.3 L505.6,572.1 L506.2,572.8 L506.8,573.5 L507.5,574.1 L508.2,574.7 L509.0,575.2 L509.8,575.7 L510.6,576.0 L511.4,576.3 L512.1,576.4 L512.8,576.3 L513.5,576.2 L514.2,576.0 L514.9,575.6 L515.5,575.1 L516.1,574.6 L516.6,573.9 L517.2,573.2 L517.7,572.4 L518.3,571.6 L518.8,570.7 L519.3,569.7 L519.8,568.7 L520.3,567.6 L520.8,566.6 L521.2,565.5 L521.7,564.3 L522.2,563.2 L522.7,562.1 L523.2,561.0 L523.7,559.9 L524.2,558.8 L524.7,557.7 L525.2,556.7 L525.7,555.6 L526.3,554.7 L526.8,553.7 L527.4,552.9 L528.0,552.0 L528.6,551.3 L529.2,550.5 L529.8,549.9 L530.5,549.3 L531.2,548.8 L531.8,548.4 L532.5,548.0 L533.3,547.7 L534.0,547.6 L534.8,547.5 L535.6,547.5 L536.4,547.7 L537.2,547.9 L538.1,548.2 L538.9,548.7 L539.8,549.2 L540.7,549.8 L541.5,550.4 L542.4,551.1 L543.2,551.9 L544.0,552.6 L544.8,553.4 L545.5,554.2 L546.3,554.9 L546.9,555.7 L547.6,556.5 L548.3,557.4 L548.9,558.2 L549.5,559.0 L550.1,559.8 L550.7,560.7 L551.3,561.5 L551.8,562.3 L552.4,563.1 L553.0,564.0 L553.5,564.8 L554.1,565.6 L554.7,566.4 L555.2,567.2 L555.8,567.9 L556.4,568.7 L557.0,569.5 L557.7,570.2 L558.3,570.9 L559.0,571.6 L559.7,572.3 L560.4,573.0 L561.1,573.6 L561.9,574.3 L562.7,574.9 L563.5,575.4 L564.4,576.0 L565.3,576.5 L566.3,577.0 L567.2,577.4 L568.2,577.8 L569.2,578.1 L570.3,578.4 L571.3,578.6 L572.3,578.8 L573.3,578.8 L574.3,578.8 L575.2,578.7 L576.1,578.4 L577.0,578.1 L577.8,577.7 L578.7,577.2 L579.5,576.7 L580.2,576.1 L581.0,575.4 L581.7,574.6 L582.4,573.9 L583.1,573.1 L583.7,572.2 L584.4,571.4 L585.0,570.5 L585.6,569.6 L586.3,568.7 L586.9,567.8 L587.5,567.0 L588.1,566.1 L588.6,565.2 L589.2,564.4 L589.8,563.5 L590.4,562.6 L590.9,561.8 L591.5,560.9 L592.0,560.1 L592.5,559.2 L593.0,558.4 L593.6,557.5 L594.1,556.7 L594.6,555.8 L595.0,554.9 L595.5,554.1 L596.0,553.2 L596.4,552.4 L596.9,551.5 L597.3,550.6 L597.8,549.7 L598.2,548.8 L598.6,548.0 L599.0,547.1 L599.4,546.2 L599.8,545.3 L600.2,544.3 L600.5,543.4 L600.9,542.5 L601.3,541.6 L601.6,540.7 L602.0,539.7 L602.3,538.8 L602.6,537.9 L602.9,536.9 L603.3,536.0 L603.6,535.0 L603.9,534.1 L604.2,533.1 L604.5,532.2 L604.7,531.2 L605.0,530.3 L605.3,529.3 L605.6,528.3 L605.8,527.4 L606.1,526.4 L606.4,525.4 L606.6,524.5 L606.9,523.5 L607.1,522.5 L607.4,521.5 L607.6,520.6 L607.9,519.6 L608.1,518.6 L608.3,517.6 L608.6,516.7 L608.8,515.7 L609.0,514.7 L609.3,513.7 L609.5,512.7 L609.7,511.8 L609.9,510.8 L610.2,509.8 L610.4,508.8 L610.6,507.8 L610.8,506.9 L611.1,505.9 L611.3,504.9 L611.5,503.9 L611.7,503.0 L611.9,502.0 L612.1,501.0 L612.4,500.0 L612.6,499.0 L612.8,498.1 L613.0,497.1 L613.2,496.1 L613.4,495.1 L613.6,494.1 L613.8,493.2 L614.0,492.2 L614.2,491.2 L614.4,490.2 L614.6,489.2 L614.9,488.3 L615.1,487.3 L615.3,486.3 L615.5,485.3 L615.7,484.4 L615.9,483.4 L616.1,482.4 L616.3,481.4 L616.5,480.4 L616.7,479.5 L616.9,478.5 L617.1,477.5 L617.3,476.5 L617.5,475.5 L617.7,474.6 L617.9,473.6 L618.1,472.6 L618.3,471.6 L618.5,470.6 L618.6,469.7 L618.8,468.7 L619.0,467.7 L619.2,466.7 L619.4,465.8 L619.6,464.8 L619.8,463.8 L620.0,462.8 L620.2,461.8 L620.4,460.9 L620.6,459.9 L620.8,458.9 L621.0,457.9 L621.2,457.0 L621.4,456.0 L621.6,455.0 L621.8,454.0 L622.0,453.0 L622.2,452.1 L622.4,451.1 L622.6,450.1 L622.8,449.1 L623.1,448.2 L623.3,447.2 L623.5,446.2 L623.7,445.2 L623.9,444.3 L624.1,443.3 L624.3,442.3 L624.5,441.3 L624.7,440.4 L624.9,439.4 L625.1,438.4 L625.4,437.4 L625.6,436.5 L625.8,435.5 L626.0,434.5 L626.2,433.5 L626.4,432.6 L626.7,431.6 L626.9,430.6 L627.1,429.6 L627.3,428.7 L627.5,427.7 L627.8,426.7 L628.0,425.7 L628.2,424.8 L628.5,423.8 L628.7,422.8 L628.9,421.8 L629.1,420.9 L629.4,419.9 L629.6,418.9 L629.9,417.9 L630.1,417.0 L630.3,416.0 L630.6,415.0 L630.8,414.1 L631.1,413.1 L631.3,412.1 L631.6,411.1 L631.8,410.2 L632.1,409.2 L632.3,408.2 L632.6,407.3 L632.9,406.3 L633.1,405.3 L633.4,404.3 L633.6,403.4 L633.9,402.4 L634.2,401.4 L634.5,400.5 L634.7,399.5 L635.0,398.5 L635.3,397.6 L635.6,396.6 L635.9,395.7 L636.2,394.7 L636.5,393.7 L636.8,392.8 L637.1,391.8 L637.4,390.9 L637.7,389.9 L638.0,389.0 L638.4,388.0 L638.7,387.1 L639.0,386.1 L639.4,385.2 L639.7,384.3 L640.1,383.3 L640.4,382.4 L640.8,381.5 L641.2,380.5 L641.5,379.6 L641.9,378.7 L642.3,377.8 L642.7,376.8 L643.1,375.9 L643.5,375.0 L643.9,374.1 L644.4,373.2 L644.8,372.3 L645.2,371.4 L645.7,370.5 L646.1,369.6 L646.6,368.7 L647.1,367.8 L647.5,367.0 L648.0,366.1 L648.5,365.2 L649.0,364.3 L649.5,363.5 L650.0,362.6 L650.6,361.8 L651.1,360.9 L651.7,360.1 L652.2,359.2 L652.8,358.4 L653.4,357.6 L654.0,356.8 L654.6,356.0 L655.2,355.3 L655.8,354.5 L656.5,353.8 L657.2,353.1 L657.9,352.4 L658.6,351.7 L659.3,351.1 L660.0,350.5 L660.8,349.9 L661.6,349.3 L662.4,348.8 L663.2,348.3 L664.1,347.9 L665.0,347.5 L665.9,347.1 L666.8,346.8 L667.7,346.5 L668.7,346.2 L669.7,345.9 L670.7,345.7 L671.7,345.4 L672.7,345.2 L673.7,345.0 L674.7,344.8 L675.6,344.5 L676.6,344.3 L677.6,344.0 L678.5,343.7 L679.4,343.3 L680.3,342.9 L681.2,342.5 L682.0,342.0 L682.8,341.5 L683.5,340.9 L684.2,340.2 L684.9,339.5 L685.5,338.8 L686.1,338.0 L686.7,337.1 L687.3,336.3 L687.8,335.4 L688.3,334.5 L688.8,333.5 L689.3,332.6 L689.8,331.6 L690.2,330.7 L690.7,329.7 L691.2,328.8 L691.6,327.8 L692.1,326.9 L692.5,325.9 L692.9,325.0 L693.4,324.0 L693.8,323.1 L694.2,322.2 L694.6,321.2 L695.1,320.3 L695.5,319.4 L695.9,318.4 L696.3,317.5 L696.7,316.6 L697.1,315.6 L697.5,314.7 L697.8,313.8 L698.2,312.9 L698.6,311.9 L699.0,311.0 L699.3,310.1 L699.7,309.2 L700.1,308.2 L700.4,307.3 L700.8,306.4 L701.1,305.5 L701.5,304.5 L701.8,303.6 L702.1,302.7 L702.5,301.8 L702.8,300.8 L703.1,299.9 L703.5,299.0 L703.8,298.0 L704.1,297.1 L704.4,296.2 L704.7,295.2 L705.0,294.3 L705.3,293.3 L705.6,292.4 L705.9,291.5 L706.2,290.5 L706.5,289.6 L706.8,288.6 L707.0,287.7 L707.3,286.7 L707.6,285.8 L707.9,284.8 L708.1,283.9 L708.4,282.9 L708.7,282.0 L708.9,281.0 L709.2,280.0 L709.5,279.1 L709.7,278.1 L710.0,277.2 L710.2,276.2 L710.4,275.2 L710.7,274.3 L710.9,273.3 L711.2,272.3 L711.4,271.4 L711.6,270.4 L711.9,269.4 L712.1,268.5 L712.3,267.5 L712.6,266.5 L712.8,265.5 L713.0,264.6 L713.2,263.6 L713.4,262.6 L713.7,261.6 L713.9,260.7 L714.1,259.7 L714.3,258.7 L714.5,257.7 L714.7,256.8 L714.9,255.8 L715.1,254.8 L715.4,253.8 L715.6,252.8 L715.8,251.9 L716.0,250.9 L716.2,249.9 L716.4,248.9 L716.6,247.9 L716.8,246.9 L717.0,245.9 L717.2,245.0 L717.4,244.0 L717.6,243.0 L717.7,242.0 L717.9,241.0 L718.1,240.0 L718.3,239.0 L718.5,238.1 L718.7,237.1 L718.9,236.1 L719.1,235.1 L719.3,234.1 L719.5,233.1 L719.7,232.1 L719.9,231.1 L720.1,230.2 L720.3,229.2 L720.4,228.2 L720.6,227.2 L720.8,226.2 L721.0,225.2 L721.2,224.2 L721.4,223.2 L721.6,222.2 L721.8,221.3 L722.0,220.3 L722.2,219.3 L722.4,218.3 L722.6,217.3 L722.8,216.3 L723.0,215.3 L723.2,214.4 L723.4,213.4 L723.6,212.4 L723.8,211.4 L724.0,210.4 L724.2,209.4 L724.4,208.4 L724.6,207.5 L724.8,206.5 L725.0,205.5 L725.3,204.5 L725.5,203.5 L725.7,202.6 L725.9,201.6 L726.1,200.6 L726.3,199.6 L726.6,198.6 L726.8,197.7 L727.0,196.7 L727.2,195.7 L727.5,194.7 L727.7,193.8 L727.9,192.8 L728.2,191.8 L728.4,190.8 L728.6,189.9 L728.9,188.9 L729.1,187.9 L729.4,187.0 L729.6,186.0 L729.9,185.0 L730.1,184.1 L730.4,183.1 L730.6,182.1 L730.9,181.2 L731.2,180.2 L731.4,179.2 L731.7,178.3 L732.0,177.3 L732.3,176.4 L732.5,175.4 L732.8,174.5 L733.1,173.5 L733.4,172.6 L733.7,171.6 L734.0,170.6 L734.3,169.7 L734.6,168.8 L734.9,167.8 L735.2,166.9 L735.5,165.9 L735.8,165.0 L736.2,164.0 L736.5,163.1 L736.8,162.2 L737.1,161.2 L737.5,160.3 L737.8,159.4 L738.2,158.4 L738.5,157.5 L738.9,156.6 L739.2,155.6 L739.6,154.7 L739.9,153.8 L740.3,152.9 L740.7,152.0 L741.0,151.0 L741.4,150.1 L741.8,149.2 L742.2,148.3 L742.6,147.4 L743.0,146.5 L743.4,145.5 L743.8,144.6 L744.1,143.7 L744.6,142.8 L745.0,141.9 L745.4,141.0 L745.8,140.1 L746.2,139.2 L746.6,138.3 L747.0,137.4 L747.4,136.5 L747.9,135.6 L748.3,134.7 L748.7,133.8 L749.1,132.9 L749.6,132.0 L750.0,131.1 L750.4,130.2 L750.9,129.3 L751.3,128.4 L751.8,127.5 L752.2,126.6 L752.7,125.7 L753.1,124.8 L753.6,123.9 L754.0,123.0 L754.5,122.1 L754.9,121.2 L755.4,120.3 L755.8,119.4 L756.3,118.5 L756.7,117.6 L757.2,116.7 L757.6,115.8 L758.1,114.9 L758.6,114.0 L759.0,113.1 L759.5,112.2 L759.9,111.3 L760.4,110.4 L760.9,109.5 L761.3,108.6 L761.8,107.8 L762.3,106.9 L762.7,106.0 L763.2,105.1 L763.7,104.2 L764.1,103.3 L764.6,102.4 L765.1,101.5 L765.5,100.5 L766.0,99.6 L766.4,98.7 L766.9,97.8 L767.4,96.9 L767.9,96.0 L768.3,95.1 L768.8,94.2 L769.3,93.4 L769.7,92.5 L770.2,91.6 L770.7,90.7 L771.2,89.8 L771.7,88.9 L772.2,88.0 L772.7,87.2 L773.2,86.3 L773.7,85.4 L774.2,84.6 L774.7,83.7 L775.2,82.9 L775.8,82.0 L776.3,81.2 L776.8,80.3 L777.4,79.5 L777.9,78.7 L778.5,77.9 L779.1,77.1 L779.6,76.3 L780.2,75.5 L780.8,74.7 L781.4,73.9 L782.0,73.2 L782.6,72.4 L783.3,71.7 L783.9,70.9 L784.5,70.2 L785.2,69.5 L785.8,68.8 L786.5,68.1 L787.2,67.4 L787.9,66.7 L788.6,66.0 L789.3,65.4 L790.0,64.7 L790.8,64.1 L791.5,63.5 L792.3,62.9 L793.1,62.3 L793.9,61.7 L794.6,61.1 L795.5,60.6 L796.3,60.0 L797.1,59.5 L797.9,58.9 L798.8,58.4 L799.6,57.8 L800.5,57.3 L801.3,56.8 L802.2,56.3 L803.0,55.8 L803.9,55.2 L804.8,54.7 L805.7,54.2 L806.5,53.7 L807.4,53.2 L808.3,52.6 L809.2,52.1 L810.1,51.6 L810.9,51.0 L811.8,50.5 L812.7,50.0 L813.6,49.4 L814.4,48.8 L815.3,48.3 L816.1,47.7 L817.0,47.1 L817.9,46.5 L818.7,45.8 L819.5,45.2 L820.4,44.6 L821.2,43.9 L822.0,43.2 L822.8,42.5 L823.6,41.8 L824.4,41.1 L825.2,40.4 L826.0,39.7 L826.8,39.1 L827.5,38.5 L828.4,37.9 L829.2,37.4 L830.0,36.9 L830.8,36.5 L831.7,36.2 L832.6,36.0 L833.5,35.9 L834.4,35.8 L835.3,35.9 L836.3,36.0 L837.3,36.3 L838.2,36.6 L839.2,37.0 L840.2,37.4 L841.1,37.9 L842.1,38.4 L843.0,38.9 L843.9,39.5 L844.7,40.1 L845.6,40.7 L846.4,41.4 L847.1,42.0 L847.9,42.7 L848.6,43.4 L849.3,44.1 L849.9,44.8 L850.6,45.6 L851.2,46.3 L851.8,47.1 L852.4,47.9 L852.9,48.7 L853.5,49.5 L854.0,50.3 L854.5,51.2 L854.9,52.0 L855.4,52.9 L855.8,53.8 L856.2,54.6 L856.6,55.5 L857.0,56.4 L857.4,57.4 L857.7,58.3 L858.1,59.2 L858.4,60.2 L858.7,61.1 L859.0,62.1 L859.3,63.0 L859.6,64.0 L859.9,65.0 L860.1,66.0 L860.4,66.9 L860.6,67.9 L860.8,68.9 L861.1,69.9 L861.3,70.9 L861.5,71.9 L861.7,72.9 L861.9,73.9 L862.1,74.9 L862.3,75.9 L862.5,76.9 L862.7,77.9 L862.9,78.9 L863.1,79.9 L863.3,80.9 L863.5,81.9 L863.7,82.9 L863.9,83.9 L864.1,84.9 L864.3,85.9 L864.5,86.9 L864.7,87.9 L864.9,88.9 L865.0,89.9 L865.2,90.9 L865.4,91.9 L865.6,92.9 L865.8,93.9 L866.0,94.9 L866.1,95.9 L866.3,96.8 L866.5,97.8 L866.7,98.8 L866.9,99.8 L867.0,100.8 L867.2,101.8 L867.4,102.8 L867.6,103.8 L867.7,104.7 L867.9,105.7 L868.1,106.7 L868.2,107.7 L868.4,108.7 L868.6,109.6 L868.8,110.6 L868.9,111.6 L869.1,112.6 L869.3,113.6 L869.4,114.6 L869.6,115.5 L869.8,116.5 L869.9,117.5 L870.1,118.5 L870.3,119.5 L870.4,120.4 L870.6,121.4 L870.8,122.4 L870.9,123.4 L871.1,124.3 L871.3,125.3 L871.4,126.3 L871.6,127.3 L871.8,128.3 L871.9,129.2 L872.1,130.2 L872.3,131.2 L872.4,132.2 L872.6,133.2 L872.8,134.1 L872.9,135.1 L873.1,136.1 L873.2,137.1 L873.4,138.0 L873.6,139.0 L873.7,140.0 L873.9,141.0 L874.1,142.0 L874.2,142.9 L874.4,143.9 L874.6,144.9 L874.7,145.9 L874.9,146.9 L875.1,147.8 L875.2,148.8 L875.4,149.8 L875.6,150.8 L875.7,151.8 L875.9,152.7 L876.1,153.7 L876.3,154.7 L876.4,155.7 L876.6,156.7 L876.8,157.7 L876.9,158.6 L877.1,159.6 L877.3,160.6 L877.5,161.6 L877.6,162.6 L877.8,163.6 L878.0,164.5 L878.2,165.5 L878.4,166.5 L878.5,167.5 L878.7,168.5 L878.9,169.5 L879.1,170.4 L879.3,171.4 L879.4,172.4 L879.6,173.4 L879.8,174.4 L880.0,175.4 L880.2,176.4 L880.4,177.3 L880.6,178.3 L880.8,179.3 L881.0,180.3 L881.2,181.3 L881.3,182.3 L881.5,183.3 L881.7,184.3 L881.9,185.2 L882.1,186.2 L882.3,187.2 L882.5,188.2 L882.8,189.2 L883.0,190.2 L883.2,191.2 L883.4,192.2 L883.6,193.1 L883.8,194.1 L884.0,195.1 L884.2,196.1 L884.4,197.1 L884.7,198.1 L884.9,199.1 L885.1,200.1 L885.3,201.1 L885.6,202.0 L885.8,203.0 L886.0,204.0 L886.3,205.0 L886.5,206.0 L886.7,207.0 L887.0,208.0 L887.2,208.9 L887.5,209.9 L887.8,210.9 L888.1,211.9 L888.4,212.8 L888.7,213.8 L889.0,214.7 L889.3,215.7 L889.6,216.6 L890.0,217.5 L890.3,218.5 L890.7,219.4 L891.1,220.3 L891.5,221.2 L891.9,222.1 L892.4,223.0 L892.8,223.8 L893.3,224.7 L893.8,225.6 L894.3,226.4 L894.9,227.2 L895.4,228.0 L896.0,228.8 L896.6,229.6 L897.2,230.4 L897.9,231.2 L898.6,231.9 L899.3,232.7 L900.0,233.4 L900.7,234.1 L901.5,234.7 L902.3,235.4 L903.1,236.0 L903.9,236.6 L904.8,237.1 L905.7,237.7 L906.5,238.1 L907.4,238.5 L908.3,238.9 L909.2,239.2 L910.1,239.5 L911.1,239.7 L912.0,239.8 L912.9,239.9 L913.9,239.9 L914.8,239.8 L915.7,239.6 L916.7,239.4 L917.6,239.1 L918.5,238.7 L919.4,238.2 L920.3,237.7 L921.2,237.1 L922.1,236.4 L923.0,235.7 L923.8,235.0 L924.7,234.2 L925.5,233.4 L926.2,232.6 L927.0,231.8 L927.7,231.0 L928.4,230.1 L929.1,229.3 L929.7,228.5 L930.3,227.7 L930.9,226.8 L931.5,226.0 L932.0,225.2 L932.5,224.4 L933.0,223.5 L933.5,222.7 L934.0,221.9 L934.4,221.1 L934.9,220.2 L935.3,219.4 L935.7,218.6 L936.1,217.8 L936.5,216.9 L936.9,216.1 L937.3,215.3 L937.7,214.4 L938.1,213.6 L938.5,212.7 L938.9,211.9 L939.4,211.0 L939.8,210.2 L940.2,209.3 L940.6,208.5 L941.1,207.6 L941.5,206.7 L942.0,205.8 L942.5,204.9 L943.0,204.0 L943.5,203.1 L944.0,202.2 L944.6,201.3 L945.2,200.4 L945.8,199.5 L946.4,198.5 L947.1,197.6 L947.8,196.7 L948.5,195.7 L949.2,194.8 L950.0,193.9 L950.7,193.0 L951.5,192.2 L952.3,191.4 L953.1,190.7 L953.9,190.1 L954.7,189.6 L955.5,189.2 L956.3,188.9 L957.1,188.7 L957.9,188.6 L958.7,188.6 L959.4,188.7 L960.2,188.8 L960.9,189.1 L961.7,189.4 L962.4,189.8 L963.2,190.2 L963.9,190.8 L964.6,191.3 L965.3,191.9 L966.0,192.6 L966.7,193.3 L967.4,194.1 L968.0,194.8 L968.7,195.7 L969.4,196.5 L970.0,197.4 L970.6,198.2 L971.3,199.1 L971.9,200.0 L972.5,200.9 L973.1,201.8 L973.7,202.7 L974.3,203.6 L974.8,204.5 L975.4,205.4 L975.9,206.3 L976.5,207.2 L977.0,208.1 L977.5,209.0 L978.1,209.9 L978.6,210.8 L979.1,211.6 L979.6,212.5 L980.1,213.4 L980.6,214.3 L981.0,215.2 L981.5,216.1 L982.0,217.0 L982.4,217.9 L982.9,218.8 L983.3,219.7 L983.8,220.5 L984.2,221.4 L984.6,222.3 L985.1,223.2 L985.5,224.1 L985.9,225.0 L986.3,225.9 L986.8,226.8 L987.2,227.7 L987.6,228.6 L988.0,229.5 L988.4,230.4 L988.8,231.3 L989.2,232.2 L989.6,233.1 L990.0,234.0 L990.4,234.9 L990.8,235.8 L991.2,236.7 L991.6,237.6 L992.0,238.5 L992.3,239.4 L992.7,240.3 L993.1,241.2 L993.5,242.1 L993.9,243.0 L994.3,243.9 L994.7,244.8 L995.0,245.8 L995.4,246.7 L995.8,247.6 L996.2,248.5 L996.6,249.4 L996.9,250.3 L997.3,251.3 L997.7,252.2 L998.1,253.1 L998.4,254.0 L998.8,255.0 L999.2,255.9 L999.5,256.8 L999.9,257.7 L1000.3,258.7 L1000.6,259.6 L1001.0,260.5 L1001.3,261.5 L1001.7,262.4 L1002.0,263.3 L1002.4,264.3 L1002.7,265.2 L1003.1,266.1 L1003.5,267.1 L1003.8,268.0 L1004.1,268.9 L1004.5,269.9 L1004.8,270.8 L1005.2,271.8 L1005.5,272.7 L1005.9,273.7 L1006.2,274.6 L1006.5,275.5 L1006.9,276.5 L1007.2,277.4 L1007.5,278.4 L1007.8,279.3 L1008.2,280.3 L1008.5,281.2 L1008.8,282.2 L1009.1,283.1 L1009.5,284.1 L1009.8,285.0 L1010.1,286.0 L1010.4,286.9 L1010.7,287.9 L1011.0,288.8 L1011.4,289.8 L1011.7,290.8 L1012.0,291.7 L1012.3,292.7 L1012.6,293.6 L1012.9,294.6 L1013.2,295.5 L1013.5,296.5 L1013.8,297.5 L1014.1,298.4 L1014.4,299.4 L1014.6,300.3 L1014.9,301.3 L1015.2,302.3 L1015.5,303.2 L1015.8,304.2 L1016.1,305.2 L1016.3,306.1 L1016.6,307.1 L1016.9,308.1 L1017.2,309.0 L1017.4,310.0 L1017.7,311.0 L1018.0,311.9 L1018.2,312.9 L1018.5,313.9 L1018.8,314.8 L1019.0,315.8 L1019.3,316.8 L1019.5,317.8 L1019.8,318.7 L1020.0,319.7 L1020.3,320.7 L1020.5,321.6 L1020.8,322.6 L1021.0,323.6 L1021.2,324.6 L1021.5,325.5 L1021.7,326.5 L1022.0,327.5 L1022.2,328.5 L1022.4,329.4 L1022.7,330.4 L1022.9,331.4 L1023.1,332.4 L1023.3,333.3 L1023.6,334.3 L1023.8,335.3 L1024.0,336.3 L1024.3,337.2 L1024.5,338.2 L1024.7,339.2 L1025.0,340.2 L1025.2,341.1 L1025.4,342.1 L1025.7,343.1 L1025.9,344.0 L1026.1,345.0 L1026.4,346.0 L1026.6,347.0 L1026.8,347.9 L1027.1,348.9 L1027.3,349.9 L1027.5,350.8 L1027.8,351.8 L1028.0,352.8 L1028.3,353.7 L1028.5,354.7 L1028.8,355.7 L1029.0,356.6 L1029.3,357.6 L1029.6,358.5 L1029.8,359.5 L1030.1,360.5 L1030.4,361.4 L1030.6,362.4 L1030.9,363.3 L1031.2,364.3 L1031.5,365.2 L1031.8,366.2 L1032.1,367.1 L1032.4,368.1 L1032.7,369.0 L1033.0,370.0 L1033.3,370.9 L1033.6,371.9 L1033.9,372.8 L1034.2,373.7 L1034.5,374.7 L1034.9,375.6 L1035.2,376.6 L1035.6,377.5 L1035.9,378.4 L1036.3,379.3 L1036.6,380.3 L1037.0,381.2 L1037.4,382.1 L1037.7,383.0 L1038.1,384.0 L1038.5,384.9 L1038.9,385.8 L1039.3,386.7 L1039.7,387.6 L1040.1,388.5 L1040.6,389.4 L1041.0,390.3 L1041.4,391.2 L1041.9,392.1 L1042.3,393.0 L1042.8,393.9 L1043.3,394.8 L1043.7,395.7 L1044.2,396.6 L1044.7,397.5 L1045.2,398.4 L1045.7,399.2 L1046.2,400.1 L1046.8,401.0 L1047.3,401.9 L1047.8,402.7 L1048.4,403.6 L1048.9,404.5 L1049.5,405.3 L1050.1,406.2 L1050.7,407.0 L1051.3,407.8 L1051.9,408.7 L1052.5,409.5 L1053.1,410.3 L1053.8,411.1 L1054.4,411.8 L1055.1,412.6 L1055.8,413.4 L1056.4,414.1 L1057.1,414.8 L1057.8,415.6 L1058.5,416.3 L1059.3,416.9 L1060.0,417.6 L1060.7,418.2 L1061.5,418.9 L1062.2,419.5 L1063.0,420.1 L1063.8,420.6 L1064.6,421.2 L1065.4,421.7 L1066.2,422.2 L1067.1,422.7 L1067.9,423.1 L1068.8,423.6 L1069.7,424.0 L1070.5,424.4 L1071.4,424.7 L1072.3,425.0 L1073.3,425.3 L1074.2,425.6 L1075.1,425.8 L1076.1,426.0 L1077.1,426.2 L1078.0,426.4 L1079.0,426.5 L1080.0,426.6 L1081.0,426.7 L1082.0,426.7 L1083.0,426.7 L1084.0,426.7 L1085.0,426.7 L1086.0,426.7 L1087.1,426.6 L1088.1,426.5 L1089.1,426.4 L1090.1,426.2 L1091.2,426.1 L1092.2,425.9 L1093.2,425.7 L1094.2,425.4 L1095.2,425.2 L1096.2,424.9 L1097.2,424.6 L1098.2,424.3 L1099.2,424.0 L1100.2,423.6 L1101.2,423.2 L1102.2,422.9 L1103.1,422.4 L1104.1,422.0 L1105.0,421.6 L1105.9,421.1 L1106.8,420.6 L1107.7,420.1 L1108.6,419.6 L1109.5,419.1 L1110.4,418.5 L1111.2,418.0 L1112.1,417.4 L1112.9,416.9 L1113.8,416.3 L1114.6,415.8 L1115.4,415.3 L1116.3,414.8 L1117.1,414.4 L1117.9,413.9 L1118.8,413.5 L1119.6,413.2 L1120.5,412.8 L1121.4,412.6 L1122.2,412.3 L1123.1,412.1 L1124.1,412.0 L1125.0,412.0 L1125.9,412.0 L1126.9,412.0 L1127.8,412.2 L1128.8,412.4 L1129.7,412.7 L1130.6,413.1 L1131.5,413.5 L1132.3,414.1 L1133.1,414.7 L1133.8,415.4 L1134.5,416.2 L1135.2,417.1 L1135.8,418.0 L1136.4,418.9 L1136.9,419.9 L1137.5,421.0 L1138.0,422.0 L1138.5,423.1 L1139.0,424.2 L1139.4,425.3 L1139.9,426.4 L1140.4,427.4 L1140.9,428.5 L1141.3,429.5 L1141.8,430.5 L1142.4,431.4 L1142.9,432.3 L1143.4,433.1 L1144.0,433.9 L1144.6,434.6 L1145.2,435.2 L1145.9,435.7 L1146.6,436.1 L1147.4,436.4 L1148.1,436.7 L1148.9,436.9 L1149.7,437.0 L1150.5,437.0 L1151.4,436.9 L1152.2,436.8 L1153.0,436.7 L1153.9,436.4 L1154.8,436.1 L1155.6,435.8 L1156.4,435.4 L1157.3,434.9 L1158.1,434.4 L1158.9,433.9 L1159.7,433.3 L1160.5,432.7 L1161.2,432.0 L1161.9,431.3 L1162.6,430.6 L1163.2,429.8 L1163.9,429.0 L1164.5,428.2 L1165.0,427.3 L1165.5,426.5 L1166.1,425.6 L1166.5,424.7 L1167.0,423.8 L1167.5,422.9 L1167.9,421.9 L1168.3,421.0 L1168.7,420.1 L1169.1,419.1 L1169.5,418.1 L1169.9,417.2 L1170.3,416.2 L1170.7,415.3 L1171.1,414.3 L1171.5,413.4 L1171.9,412.4 L1172.3,411.5 L1172.7,410.5 L1173.0,409.5 L1173.4,408.6 L1173.8,407.7 L1174.2,406.7 L1174.6,405.8 L1174.9,404.8 L1175.3,403.9 L1175.7,402.9 L1176.0,402.0 L1176.4,401.0 L1176.8,400.1 L1177.1,399.2 L1177.5,398.2 L1177.9,397.3 L1178.2,396.3 L1178.6,395.4 L1179.0,394.5 L1179.3,393.5 L1179.7,392.6 L1180.1,391.7 L1180.4,390.7 L1180.8,389.8 L1181.1,388.9 L1181.5,387.9 L1181.9,387.0 L1182.2,386.1 L1182.6,385.1 L1182.9,384.2 L1183.3,383.3 L1183.6,382.4 L1184.0,381.4 L1184.4,380.5 L1184.7,379.6 L1185.1,378.7 L1185.4,377.7 L1185.8,376.8 L1186.2,375.9 L1186.5,375.0 L1186.9,374.0 L1187.2,373.1 L1187.6,372.2 L1188.0,371.3 L1188.3,370.4 L1188.7,369.4 L1189.1,368.5 L1189.4,367.6 L1189.8,366.7 L1190.2,365.8 L1190.5,364.8 L1190.9,363.9 L1191.3,363.0 L1191.6,362.1 L1192.0,361.2 L1192.4,360.3 L1192.8,359.4 L1193.1,358.4 L1193.5,357.5 L1193.9,356.6 L1194.3,355.7 L1194.6,354.8 L1195.0,353.9 L1195.4,353.0 L1195.8,352.0 L1196.2,351.1 L1196.6,350.2 L1196.9,349.3 L1197.3,348.4 L1197.7,347.5 L1198.1,346.6 L1198.5,345.7 L1198.9,344.7 L1199.3,343.8 L1199.7,342.9 L1200.1,342.0 L1200.5,341.1 L1200.9,340.2 L1201.3,339.3 L1201.7,338.4 L1202.1,337.5 L1202.5,336.5 L1202.9,335.6 L1203.3,334.7 L1203.7,333.8 L1204.1,332.9 L1204.5,332.0 L1204.9,331.1 L1205.3,330.2 L1205.8,329.2 L1206.2,328.3 L1206.6,327.4 L1207.0,326.5 L1207.4,325.6 L1207.8,324.7 L1208.3,323.8 L1208.7,322.9 L1209.1,321.9 L1209.6,321.0 L1210.0,320.1 L1210.4,319.2 L1210.8,318.3 L1211.3,317.4 L1211.7,316.5 L1212.2,315.5 L1212.6,314.6 L1213.0,313.7 L1213.5,312.8 L1213.9,311.9 L1214.4,311.0 L1214.8,310.0 L1215.3,309.1 L1215.7,308.2 L1216.2,307.3 L1216.7,306.4 L1217.1,305.5 L1217.6,304.6 L1218.1,303.7 L1218.6,302.8 L1219.1,301.9 L1219.6,301.1 L1220.1,300.2 L1220.6,299.3 L1221.1,298.5 L1221.7,297.6 L1222.2,296.8 L1222.8,296.0 L1223.4,295.2 L1223.9,294.4 L1224.5,293.6 L1225.2,292.8 L1225.8,292.0 L1226.4,291.3 L1227.1,290.5 L1227.7,289.8 L1228.4,289.1 L1229.1,288.4 L1229.8,287.7 L1230.5,287.1 L1231.3,286.4 L1232.1,285.8 L1232.8,285.2 L1233.6,284.6 L1234.4,284.0 L1235.2,283.5 L1236.1,282.9 L1236.9,282.4 L1237.7,281.9 L1238.6,281.4 L1239.5,280.9 L1240.4,280.5 L1241.3,280.0 L1242.2,279.6 L1243.1,279.2 L1244.0,278.8 L1244.9,278.4 L1245.8,278.1 L1246.8,277.8 L1247.7,277.4 L1248.7,277.1 L1249.6,276.9 L1250.6,276.6 L1251.6,276.4 L1252.6,276.1 L1253.5,275.9 L1254.5,275.8 L1255.5,275.6 L1256.5,275.4 L1257.5,275.3 L1258.5,275.2 L1259.5,275.1 L1260.5,275.0 L1261.5,275.0 L1262.5,275.0 L1263.4,274.9 L1264.4,275.0 L1265.4,275.0 L1266.4,275.0 L1267.4,275.1 L1268.4,275.1 L1269.4,275.2 L1270.4,275.3 L1271.4,275.4 L1272.4,275.6 L1273.4,275.7 L1274.4,275.8 L1275.4,276.0 L1276.4,276.2 L1277.3,276.3 L1278.3,276.5 L1279.3,276.7 L1280.3,276.9 L1281.3,277.1 L1282.3,277.3 L1283.3,277.5 L1284.3,277.7 L1285.3,277.9 L1286.3,278.1 L1287.3,278.4 L1288.3,278.6 L1289.3,278.8 L1290.2,279.0 L1291.2,279.2 L1292.2,279.4 L1293.2,279.6 L1294.2,279.8 L1295.2,280.0 L1296.2,280.2 L1297.2,280.4 L1298.2,280.6 L1299.2,280.8 L1300.2,280.9 L1301.2,281.1 L1302.2,281.2 L1303.2,281.4 L1304.2,281.5 L1305.2,281.6 L1306.2,281.7 L1307.1,281.8 L1308.1,281.9 L1309.1,281.9 L1310.1,282.0 L1311.1,282.0 L1312.1,282.1 L1313.1,282.1 L1314.1,282.1 L1315.1,282.1 L1316.1,282.1 L1317.1,282.1 L1318.1,282.1 L1319.1,282.1 L1320.1,282.0 L1321.1,282.0 L1322.1,282.0 L1323.1,281.9 L1324.1,281.9 L1325.1,281.8 L1326.1,281.7 L1327.1,281.7 L1328.1,281.6 L1329.0,281.5 L1330.0,281.4 L1331.0,281.3 L1332.0,281.2 L1333.0,281.1 L1334.0,281.0 L1335.0,280.9 L1336.0,280.8 L1337.0,280.7 L1338.0,280.6 L1338.9,280.5 L1339.9,280.4 L1340.9,280.3 L1341.9,280.2 L1342.9,280.1 L1343.9,280.0 L1344.9,279.9 L1345.8,279.8 L1346.8,279.7 L1347.8,279.6 L1348.8,279.5 L1349.8,279.4 L1350.8,279.3 L1351.7,279.2 L1352.7,279.1 L1353.7,279.0 L1354.7,279.0 L1355.7,278.9 L1356.7,278.8 L1357.7,278.8 L1358.6,278.7 L1359.6,278.7 L1360.6,278.6 L1361.6,278.6 L1362.6,278.6 L1363.6,278.6 L1364.7,278.6 L1365.7,278.6 L1366.7,278.6 L1367.7,278.6 L1368.7,278.6 L1369.7,278.6 L1370.8,278.7 L1371.8,278.7 L1372.8,278.7 L1373.8,278.8 L1374.9,278.8 L1375.9,278.8 L1376.9,278.8 L1377.9,278.8 L1378.9,278.8 L1379.9,278.8 L1380.9,278.7 L1381.9,278.7 L1382.9,278.6 L1383.9,278.5 L1384.8,278.3 L1385.8,278.2 L1386.7,278.0 L1387.7,277.7 L1388.6,277.5 L1389.5,277.2 L1390.4,276.8 L1391.3,276.5 L1392.1,276.1 L1393.0,275.6 L1393.8,275.1 L1394.7,274.6 L1395.5,274.1 L1396.3,273.5 L1397.2,273.0 L1398.0,272.4 L1398.8,271.8 L1399.7,271.2 L1400.5,270.7 L1401.4,270.1 L1402.3,269.5 L1403.1,269.0 L1404.0,268.5 L1405.0,268.0 L1405.9,267.5 L1406.8,267.0 L1407.8,266.6 L1408.8,266.2 L1409.7,265.8 L1410.7,265.4 L1411.7,265.0 L1412.7,264.7 L1413.7,264.4 L1414.7,264.1 L1415.8,263.8 L1416.8,263.6 L1417.8,263.4 L1418.8,263.2 L1419.9,263.0 L1420.9,262.9 L1421.9,262.8 L1422.9,262.7 L1424.0,262.6 L1425.0,262.6 L1426.0,262.5 L1427.0,262.5 L1428.0,262.6 L1429.0,262.6 L1429.9,262.7 L1430.9,262.9 L1431.8,263.0 L1432.8,263.2 L1433.7,263.4 L1434.6,263.6 L1435.5,263.8 L1436.4,264.1 L1437.3,264.4 L1438.2,264.7 L1439.1,265.1 L1439.9,265.4 L1440.8,265.8 L1441.6,266.2 L1442.5,266.6 L1443.3,267.1 L1444.1,267.6 L1444.9,268.1 L1445.7,268.6 L1446.5,269.1 L1447.3,269.6 L1448.1,270.2 L1448.8,270.8 L1449.6,271.4 L1450.4,272.0 L1451.1,272.6 L1451.8,273.2 L1452.6,273.9 L1453.3,274.6 L1454.0,275.2 L1454.7,275.9 L1455.4,276.7 L1456.1,277.4 L1456.8,278.1 L1457.5,278.8 L1458.2,279.6 L1458.9,280.4 L1459.5,281.1 L1460.2,281.9 L1460.9,282.7 L1461.5,283.5 L1462.2,284.3 L1462.8,285.1 L1463.5,286.0 L1464.1,286.8 L1464.7,287.6 L1465.4,288.5 L1466.0,289.3 L1466.6,290.2 L1467.3,291.0 L1467.9,291.9 L1468.5,292.7 L1469.1,293.6 L1469.7,294.4 L1470.3,295.3 L1470.9,296.2 L1471.5,297.0 L1472.1,297.9 L1472.7,298.8 L1473.3,299.6 L1473.9,300.5 L1474.5,301.3 L1475.1,302.2 L1475.7,303.1 L1476.3,303.9 L1476.8,304.8 L1477.4,305.6 L1478.0,306.4 L1478.6,307.3 L1479.2,308.1 L1479.8,308.9 L1480.4,309.7 L1481.0,310.5 L1481.5,311.3 L1482.1,312.1 L1482.7,312.9 L1483.3,313.7 L1483.9,314.4 L1484.5,315.2 L1485.1,315.9 L1485.7,316.6 L1486.3,317.3 L1486.9,318.0 L1487.5,318.7 L1488.1,319.4 L1488.7,320.1 L1489.3,320.7 L1489.9,321.4" stroke="#0072BD" stroke-width="3.4" stroke-dasharray="22.1 12.8 23.4 13.5 22.5 13.0 22.9 13.2 22.2 12.8 23.3 13.5 22.4 12.9 23.8 13.7 21.2 12.2 23.6 13.6 22.0 12.7 23.0 13.3 23.1 13.3 22.4 13.0 23.4 13.5 23.3 13.5 22.4 12.9 22.9 13.2 21.7 12.5 23.2 13.4 23.0 13.3 22.4 13.0 22.9 13.2 23.1 13.4 23.5 13.6 22.3 12.9 22.2 12.8 24.7 14.2 22.9 13.2 20.9 12.1 22.0 12.7 22.5 13.0 23.9 13.8 22.2 12.8 23.6 13.6 22.9 13.2 22.0 12.7 22.8 13.2 23.0 13.3 22.4 12.9 23.2 13.4 22.2 12.8 23.8 13.7 24.0 13.9 22.1 12.8 22.3 12.9 22.2 12.8 22.0 12.7 23.8 13.8 21.8 12.6 22.5 13.0 23.3 13.4 22.9 13.2 22.3 12.9 22.1 12.8 22.8 13.2 22.7 13.1 23.3 13.4 23.4 13.5 22.1 12.8 23.3 13.5 22.7 13.1 22.0 12.7 23.1 13.3 23.3 13.4 22.9 13.2 22.3 12.9 22.7 13.1 22.8 13.2 23.4 13.5 23.2 13.4 23.1 13.3 23.0 13.3" fill="none" stroke-linejoin="round"/>
<g font-size="33.7" text-anchor="end">
<text x="106.6" y="745.3">0</text>
<text x="106.6" y="642.3">5</text>
<text x="106.6" y="539.3">10</text>
<text x="106.6" y="436.3">15</text>
<text x="106.6" y="333.3">20</text>
<text x="106.6" y="230.3">25</text>
<text x="106.6" y="127.3">30</text>
<text x="106.6" y="24.3">35</text>
</g>
<g font-size="33.7" text-anchor="middle">
<text x="1490.7" y="812.2">0</text>
<text x="1366.5" y="812.2">50</text>
<text x="1242.2" y="812.2">100</text>
<text x="1118.0" y="812.2">150</text>
<text x="993.8" y="812.2">200</text>
<text x="869.6" y="812.2">250</text>
<text x="745.4" y="812.2">300</text>
<text x="621.2" y="812.2">350</text>
<text x="497.0" y="812.2">400</text>
<text x="372.8" y="812.2">450</text>
<text x="248.6" y="812.2">500</text>
<text x="124.4" y="812.2">550</text>
<text x="805.3" y="856.7" font-size="33.6">Time (Ma)</text>
<text transform="translate(24.7,566.9) rotate(-90)" x="0" y="0" font-size="33.2" text-anchor="start">Atmospheric O<tspan font-size="25" dy="9" dx="1">2</tspan><tspan dy="-9"> (%)</tspan></text>
</g>
<path d="M904,599.8 H972" stroke="#7E2F8E" stroke-width="6.2"/>
<path d="M904,640 H972" stroke="#000" stroke-width="3.3" stroke-dasharray="2.9 6.13"/>
<path d="M904,680.6 H972" stroke="#0072BD" stroke-width="3.4" stroke-dasharray="23 13.3"/>
<g font-size="24.9">
<text x="1004" y="607.5">GEOCARBSULF (2009)</text>
<text x="1004" y="648.1">GEOCARBSULF (2009) with ST <tspan font-family="'Liberation Serif', 'DejaVu Serif', serif" font-size="27" dx="1.5">δ</tspan><tspan font-size="17.8" dy="-7.9" dx="0.8">13</tspan><tspan dy="7.9" dx="-2.3"> C</tspan></text>
<text x="1004" y="688.7">GEOCARBSULFOR with 2009 <tspan font-family="'Liberation Serif', 'DejaVu Serif', serif" font-size="27" dx="1.5">δ</tspan><tspan font-size="17.8" dy="-7.9" dx="0.8">13</tspan><tspan dy="7.9" dx="-2.3"> C</tspan></text>
</g>
</svg>
</body></html>
